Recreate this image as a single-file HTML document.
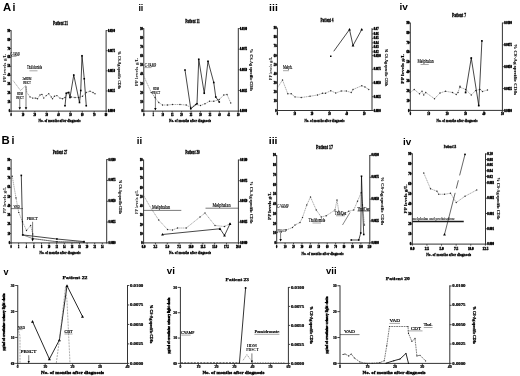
<!DOCTYPE html>
<html><head><meta charset="utf-8"><title>Figure</title>
<style>
html,body{margin:0;padding:0;background:#fff;}
body{width:520px;height:376px;overflow:hidden;}
svg{display:block;}
</style></head><body>
<svg width="520" height="376" viewBox="0 0 520 376">
<rect width="520" height="376" fill="#fff"/>
<text transform="translate(3 10.6) scale(0.1)" font-family='"Liberation Sans", sans-serif' font-size="113" font-weight="bold" text-anchor="start" fill="#000">A</text>
<text transform="translate(12.4 10.6) scale(0.1)" font-family='"Liberation Sans", sans-serif' font-size="106" font-weight="bold" text-anchor="start" fill="#000">i</text>
<text transform="translate(138.4 10.6) scale(0.1)" font-family='"Liberation Sans", sans-serif' font-size="89" font-weight="bold" text-anchor="start" fill="#000">ii</text>
<text transform="translate(269.1 10.6) scale(0.1)" font-family='"Liberation Sans", sans-serif' font-size="89" font-weight="bold" text-anchor="start" fill="#000" textLength="87" lengthAdjust="spacingAndGlyphs">iii</text>
<text transform="translate(399.4 10.3) scale(0.1)" font-family='"Liberation Sans", sans-serif' font-size="93" font-weight="bold" text-anchor="start" fill="#000" textLength="84" lengthAdjust="spacingAndGlyphs">iv</text>
<text transform="translate(1.6 144.4) scale(0.1)" font-family='"Liberation Sans", sans-serif' font-size="114" font-weight="bold" text-anchor="start" fill="#000">B</text>
<text transform="translate(11.5 144.4) scale(0.1)" font-family='"Liberation Sans", sans-serif' font-size="106" font-weight="bold" text-anchor="start" fill="#000">i</text>
<text transform="translate(136.8 144.4) scale(0.1)" font-family='"Liberation Sans", sans-serif' font-size="86" font-weight="bold" text-anchor="start" fill="#000" textLength="54" lengthAdjust="spacingAndGlyphs">ii</text>
<text transform="translate(268.8 143.8) scale(0.1)" font-family='"Liberation Sans", sans-serif' font-size="88" font-weight="bold" text-anchor="start" fill="#000" textLength="87" lengthAdjust="spacingAndGlyphs">iii</text>
<text transform="translate(403.1 145) scale(0.1)" font-family='"Liberation Sans", sans-serif' font-size="94" font-weight="bold" text-anchor="start" fill="#000" textLength="82" lengthAdjust="spacingAndGlyphs">iv</text>
<text transform="translate(3.4 274.5) scale(0.1)" font-family='"Liberation Sans", sans-serif' font-size="90" font-weight="bold" text-anchor="start" fill="#000">v</text>
<text transform="translate(166.8 273.9) scale(0.1)" font-family='"Liberation Sans", sans-serif' font-size="86" font-weight="bold" text-anchor="start" fill="#000" textLength="82" lengthAdjust="spacingAndGlyphs">vi</text>
<text transform="translate(326.1 274.1) scale(0.1)" font-family='"Liberation Sans", sans-serif' font-size="88" font-weight="bold" text-anchor="start" fill="#000" textLength="105" lengthAdjust="spacingAndGlyphs">vii</text>
<line x1="11.1" y1="30.2" x2="11.1" y2="111.6" stroke="#333" stroke-width="1.0" />
<line x1="106.1" y1="30.2" x2="106.1" y2="111.6" stroke="#333" stroke-width="1.0" />
<line x1="10.6" y1="111.1" x2="106.6" y2="111.1" stroke="#333" stroke-width="1.0" />
<line x1="9.6" y1="30.6" x2="11.1" y2="30.6" stroke="#333" stroke-width="0.9" />
<text transform="translate(10.2 31.62) scale(0.1)" font-family='"Liberation Serif", serif' font-size="31" font-weight="bold" text-anchor="end" fill="#111" stroke="#111" stroke-width="5" textLength="26.87" lengthAdjust="spacingAndGlyphs">90</text>
<line x1="9.6" y1="39.54" x2="11.1" y2="39.54" stroke="#333" stroke-width="0.9" />
<text transform="translate(10.2 40.57) scale(0.1)" font-family='"Liberation Serif", serif' font-size="31" font-weight="bold" text-anchor="end" fill="#111" stroke="#111" stroke-width="5" textLength="26.87" lengthAdjust="spacingAndGlyphs">80</text>
<line x1="9.6" y1="48.49" x2="11.1" y2="48.49" stroke="#333" stroke-width="0.9" />
<text transform="translate(10.2 49.51) scale(0.1)" font-family='"Liberation Serif", serif' font-size="31" font-weight="bold" text-anchor="end" fill="#111" stroke="#111" stroke-width="5" textLength="26.87" lengthAdjust="spacingAndGlyphs">70</text>
<line x1="9.6" y1="57.43" x2="11.1" y2="57.43" stroke="#333" stroke-width="0.9" />
<text transform="translate(10.2 58.46) scale(0.1)" font-family='"Liberation Serif", serif' font-size="31" font-weight="bold" text-anchor="end" fill="#111" stroke="#111" stroke-width="5" textLength="26.87" lengthAdjust="spacingAndGlyphs">60</text>
<line x1="9.6" y1="66.38" x2="11.1" y2="66.38" stroke="#333" stroke-width="0.9" />
<text transform="translate(10.2 67.4) scale(0.1)" font-family='"Liberation Serif", serif' font-size="31" font-weight="bold" text-anchor="end" fill="#111" stroke="#111" stroke-width="5" textLength="26.87" lengthAdjust="spacingAndGlyphs">50</text>
<line x1="9.6" y1="75.32" x2="11.1" y2="75.32" stroke="#333" stroke-width="0.9" />
<text transform="translate(10.2 76.35) scale(0.1)" font-family='"Liberation Serif", serif' font-size="31" font-weight="bold" text-anchor="end" fill="#111" stroke="#111" stroke-width="5" textLength="26.87" lengthAdjust="spacingAndGlyphs">40</text>
<line x1="9.6" y1="84.27" x2="11.1" y2="84.27" stroke="#333" stroke-width="0.9" />
<text transform="translate(10.2 85.29) scale(0.1)" font-family='"Liberation Serif", serif' font-size="31" font-weight="bold" text-anchor="end" fill="#111" stroke="#111" stroke-width="5" textLength="26.87" lengthAdjust="spacingAndGlyphs">30</text>
<line x1="9.6" y1="93.21" x2="11.1" y2="93.21" stroke="#333" stroke-width="0.9" />
<text transform="translate(10.2 94.23) scale(0.1)" font-family='"Liberation Serif", serif' font-size="31" font-weight="bold" text-anchor="end" fill="#111" stroke="#111" stroke-width="5" textLength="26.87" lengthAdjust="spacingAndGlyphs">20</text>
<line x1="9.6" y1="102.16" x2="11.1" y2="102.16" stroke="#333" stroke-width="0.9" />
<text transform="translate(10.2 103.18) scale(0.1)" font-family='"Liberation Serif", serif' font-size="31" font-weight="bold" text-anchor="end" fill="#111" stroke="#111" stroke-width="5" textLength="26.87" lengthAdjust="spacingAndGlyphs">10</text>
<line x1="9.6" y1="111.1" x2="11.1" y2="111.1" stroke="#333" stroke-width="0.9" />
<text transform="translate(10.2 112.12) scale(0.1)" font-family='"Liberation Serif", serif' font-size="31" font-weight="bold" text-anchor="end" fill="#111" stroke="#111" stroke-width="5" textLength="13.43" lengthAdjust="spacingAndGlyphs">0</text>
<line x1="106.1" y1="30.6" x2="107.6" y2="30.6" stroke="#333" stroke-width="0.9" />
<text transform="translate(107.9 31.62) scale(0.1)" font-family='"Liberation Serif", serif' font-size="31" font-weight="bold" text-anchor="start" fill="#111" stroke="#111" stroke-width="5" textLength="70.06" lengthAdjust="spacingAndGlyphs">0.0100</text>
<line x1="106.1" y1="50.73" x2="107.6" y2="50.73" stroke="#333" stroke-width="0.9" />
<text transform="translate(107.9 51.75) scale(0.1)" font-family='"Liberation Serif", serif' font-size="31" font-weight="bold" text-anchor="start" fill="#111" stroke="#111" stroke-width="5" textLength="70.06" lengthAdjust="spacingAndGlyphs">0.0075</text>
<line x1="106.1" y1="70.85" x2="107.6" y2="70.85" stroke="#333" stroke-width="0.9" />
<text transform="translate(107.9 71.87) scale(0.1)" font-family='"Liberation Serif", serif' font-size="31" font-weight="bold" text-anchor="start" fill="#111" stroke="#111" stroke-width="5" textLength="70.06" lengthAdjust="spacingAndGlyphs">0.0050</text>
<line x1="106.1" y1="90.97" x2="107.6" y2="90.97" stroke="#333" stroke-width="0.9" />
<text transform="translate(107.9 92) scale(0.1)" font-family='"Liberation Serif", serif' font-size="31" font-weight="bold" text-anchor="start" fill="#111" stroke="#111" stroke-width="5" textLength="70.06" lengthAdjust="spacingAndGlyphs">0.0025</text>
<line x1="106.1" y1="111.1" x2="107.6" y2="111.1" stroke="#333" stroke-width="0.9" />
<text transform="translate(107.9 112.12) scale(0.1)" font-family='"Liberation Serif", serif' font-size="31" font-weight="bold" text-anchor="start" fill="#111" stroke="#111" stroke-width="5" textLength="70.06" lengthAdjust="spacingAndGlyphs">0.0000</text>
<line x1="11.1" y1="111.1" x2="11.1" y2="112.6" stroke="#333" stroke-width="0.9" />
<text transform="translate(11.1 115.9) scale(0.1)" font-family='"Liberation Serif", serif' font-size="31" font-weight="bold" text-anchor="middle" fill="#111" stroke="#111" stroke-width="5" textLength="12.4" lengthAdjust="spacingAndGlyphs">0</text>
<line x1="22.97" y1="111.1" x2="22.97" y2="112.6" stroke="#333" stroke-width="0.9" />
<text transform="translate(22.97 115.9) scale(0.1)" font-family='"Liberation Serif", serif' font-size="31" font-weight="bold" text-anchor="middle" fill="#111" stroke="#111" stroke-width="5" textLength="24.8" lengthAdjust="spacingAndGlyphs">10</text>
<line x1="34.84" y1="111.1" x2="34.84" y2="112.6" stroke="#333" stroke-width="0.9" />
<text transform="translate(34.84 115.9) scale(0.1)" font-family='"Liberation Serif", serif' font-size="31" font-weight="bold" text-anchor="middle" fill="#111" stroke="#111" stroke-width="5" textLength="24.8" lengthAdjust="spacingAndGlyphs">20</text>
<line x1="46.71" y1="111.1" x2="46.71" y2="112.6" stroke="#333" stroke-width="0.9" />
<text transform="translate(46.71 115.9) scale(0.1)" font-family='"Liberation Serif", serif' font-size="31" font-weight="bold" text-anchor="middle" fill="#111" stroke="#111" stroke-width="5" textLength="24.8" lengthAdjust="spacingAndGlyphs">30</text>
<line x1="58.58" y1="111.1" x2="58.58" y2="112.6" stroke="#333" stroke-width="0.9" />
<text transform="translate(58.58 115.9) scale(0.1)" font-family='"Liberation Serif", serif' font-size="31" font-weight="bold" text-anchor="middle" fill="#111" stroke="#111" stroke-width="5" textLength="24.8" lengthAdjust="spacingAndGlyphs">40</text>
<line x1="70.45" y1="111.1" x2="70.45" y2="112.6" stroke="#333" stroke-width="0.9" />
<text transform="translate(70.45 115.9) scale(0.1)" font-family='"Liberation Serif", serif' font-size="31" font-weight="bold" text-anchor="middle" fill="#111" stroke="#111" stroke-width="5" textLength="24.8" lengthAdjust="spacingAndGlyphs">50</text>
<line x1="82.32" y1="111.1" x2="82.32" y2="112.6" stroke="#333" stroke-width="0.9" />
<text transform="translate(82.32 115.9) scale(0.1)" font-family='"Liberation Serif", serif' font-size="31" font-weight="bold" text-anchor="middle" fill="#111" stroke="#111" stroke-width="5" textLength="24.8" lengthAdjust="spacingAndGlyphs">60</text>
<line x1="94.19" y1="111.1" x2="94.19" y2="112.6" stroke="#333" stroke-width="0.9" />
<text transform="translate(94.19 115.9) scale(0.1)" font-family='"Liberation Serif", serif' font-size="31" font-weight="bold" text-anchor="middle" fill="#111" stroke="#111" stroke-width="5" textLength="24.8" lengthAdjust="spacingAndGlyphs">70</text>
<line x1="106.06" y1="111.1" x2="106.06" y2="112.6" stroke="#333" stroke-width="0.9" />
<text transform="translate(106.06 115.9) scale(0.1)" font-family='"Liberation Serif", serif' font-size="31" font-weight="bold" text-anchor="middle" fill="#111" stroke="#111" stroke-width="5" textLength="24.8" lengthAdjust="spacingAndGlyphs">80</text>
<text transform="translate(60.6 24.9) scale(0.1)" font-family='"Liberation Serif", serif' font-size="52" font-weight="bold" text-anchor="middle" fill="#000" stroke="#000" stroke-width="3.2" textLength="150" lengthAdjust="spacingAndGlyphs">Patient 21</text>
<text transform="translate(59.6 122.3) scale(0.1)" font-family='"Liberation Serif", serif' font-size="44" font-weight="bold" text-anchor="middle" fill="#000" stroke="#000" stroke-width="3" textLength="420" lengthAdjust="spacingAndGlyphs">No. of months after diagnosis</text>
<text transform="translate(6.2 68) rotate(-90) scale(0.1)" font-family='"Liberation Serif", serif' font-size="36" font-weight="normal" text-anchor="middle" fill="#000" stroke="#000" stroke-width="0.6" textLength="280" lengthAdjust="spacingAndGlyphs">PP levels g/L</text>
<text transform="translate(117.8 70) rotate(90) scale(0.1)" font-family='"Liberation Serif", serif' font-size="40" font-weight="bold" text-anchor="middle" fill="#000" stroke="#000" stroke-width="1" textLength="380" lengthAdjust="spacingAndGlyphs">% CS-Ag specific CD8s</text>
<polyline points="13.1,80.6 20.6,90.6 25.6,85.6 26.9,92.5 30,96.9 32.75,98.1 35.6,98.1 37.5,98.75 40,95 41.9,94.4 43.75,98.1 46.25,95.6 48.75,93.75 51.25,96.9 52.5,98.75 54.4,96.25 56.9,95.6 60,98.1 62.5,98.75 65,97.5 68,92.5 71.25,97 75,97.5 78.75,97.5 82.5,96.25 86.25,92.5 90,91.25 93,92.5 95,93.75" fill="none" stroke="#555" stroke-width="0.5" stroke-dasharray="1.3 0.6" stroke-linejoin="miter" />
<circle cx="30" cy="96.9" r="0.7" fill="#2a2a2a"/>
<circle cx="32.75" cy="98.1" r="0.7" fill="#2a2a2a"/>
<circle cx="35.6" cy="98.1" r="0.7" fill="#2a2a2a"/>
<circle cx="37.5" cy="98.75" r="0.7" fill="#2a2a2a"/>
<circle cx="40" cy="95" r="0.7" fill="#2a2a2a"/>
<circle cx="41.9" cy="94.4" r="0.7" fill="#2a2a2a"/>
<circle cx="43.75" cy="98.1" r="0.7" fill="#2a2a2a"/>
<circle cx="46.25" cy="95.6" r="0.7" fill="#2a2a2a"/>
<circle cx="48.75" cy="93.75" r="0.7" fill="#2a2a2a"/>
<circle cx="51.25" cy="96.9" r="0.7" fill="#2a2a2a"/>
<circle cx="52.5" cy="98.75" r="0.7" fill="#2a2a2a"/>
<circle cx="54.4" cy="96.25" r="0.7" fill="#2a2a2a"/>
<circle cx="56.9" cy="95.6" r="0.7" fill="#2a2a2a"/>
<circle cx="60" cy="98.1" r="0.7" fill="#2a2a2a"/>
<circle cx="62.5" cy="98.75" r="0.7" fill="#2a2a2a"/>
<circle cx="65" cy="97.5" r="0.7" fill="#2a2a2a"/>
<circle cx="68" cy="92.5" r="0.7" fill="#2a2a2a"/>
<circle cx="71.25" cy="97" r="0.7" fill="#2a2a2a"/>
<circle cx="75" cy="97.5" r="0.7" fill="#2a2a2a"/>
<circle cx="78.75" cy="97.5" r="0.7" fill="#2a2a2a"/>
<circle cx="82.5" cy="96.25" r="0.7" fill="#2a2a2a"/>
<circle cx="86.25" cy="92.5" r="0.7" fill="#2a2a2a"/>
<circle cx="90" cy="91.25" r="0.7" fill="#2a2a2a"/>
<circle cx="93" cy="92.5" r="0.7" fill="#2a2a2a"/>
<circle cx="95" cy="93.75" r="0.7" fill="#2a2a2a"/>
<polyline points="65,105.75 66.25,93.25 68.75,92.5 70,97.5 73.75,75 79.5,102.5 80.75,90.5 82,55.75 84.25,78.75 86.25,105.75" fill="none" stroke="#000" stroke-width="0.72" stroke-linejoin="miter" />
<rect x="64.2" y="104.95" width="1.6" height="1.6" fill="#000"/>
<rect x="65.45" y="92.45" width="1.6" height="1.6" fill="#000"/>
<rect x="67.95" y="91.7" width="1.6" height="1.6" fill="#000"/>
<rect x="69.2" y="96.7" width="1.6" height="1.6" fill="#000"/>
<rect x="72.95" y="74.2" width="1.6" height="1.6" fill="#000"/>
<rect x="78.7" y="101.7" width="1.6" height="1.6" fill="#000"/>
<rect x="79.95" y="89.7" width="1.6" height="1.6" fill="#000"/>
<rect x="81.2" y="54.95" width="1.6" height="1.6" fill="#000"/>
<rect x="83.45" y="77.95" width="1.6" height="1.6" fill="#000"/>
<rect x="85.45" y="104.95" width="1.6" height="1.6" fill="#000"/>
<line x1="19.75" y1="99" x2="19.75" y2="108.8" stroke="#222" stroke-width="0.6" />
<polygon points="18.5,107.2 21,107.2 19.75,109.8" fill="#000"/>
<line x1="26" y1="86" x2="26" y2="108.8" stroke="#222" stroke-width="0.6" />
<polygon points="24.75,107.2 27.25,107.2 26,109.8" fill="#000"/>
<text transform="translate(15.2 55.85) scale(0.1)" font-family='"Liberation Serif", serif' font-size="56" font-weight="normal" text-anchor="middle" fill="#000" stroke="#000" stroke-width="1.6" textLength="95" lengthAdjust="spacingAndGlyphs">C-VAMP</text>
<line x1="10.5" y1="56.4" x2="16.5" y2="56.4" stroke="#222" stroke-width="0.4" />
<text transform="translate(34.5 69.35) scale(0.1)" font-family='"Liberation Serif", serif' font-size="56" font-weight="normal" text-anchor="middle" fill="#000" stroke="#000" stroke-width="1.6" textLength="150" lengthAdjust="spacingAndGlyphs">Thalidomide</text>
<line x1="29.5" y1="70.8" x2="37.5" y2="70.8" stroke="#222" stroke-width="0.4" />
<text transform="translate(26.9 79.62) scale(0.1)" font-family='"Liberation Serif", serif' font-size="46" font-weight="normal" text-anchor="middle" fill="#000" stroke="#000" stroke-width="1.6" textLength="90" lengthAdjust="spacingAndGlyphs">2xHDM</text>
<text transform="translate(26.9 84.02) scale(0.1)" font-family='"Liberation Serif", serif' font-size="46" font-weight="normal" text-anchor="middle" fill="#000" stroke="#000" stroke-width="1.6" textLength="75" lengthAdjust="spacingAndGlyphs">PBSCT</text>
<text transform="translate(20 95.02) scale(0.1)" font-family='"Liberation Serif", serif' font-size="46" font-weight="normal" text-anchor="middle" fill="#000" stroke="#000" stroke-width="1.6" textLength="60" lengthAdjust="spacingAndGlyphs">HDM</text>
<text transform="translate(20 98.77) scale(0.1)" font-family='"Liberation Serif", serif' font-size="46" font-weight="normal" text-anchor="middle" fill="#000" stroke="#000" stroke-width="1.6" textLength="75" lengthAdjust="spacingAndGlyphs">PBSCT</text>
<line x1="143.8" y1="28.2" x2="143.8" y2="111.6" stroke="#333" stroke-width="1.0" />
<line x1="238.3" y1="28.2" x2="238.3" y2="111.6" stroke="#333" stroke-width="1.0" />
<line x1="143.3" y1="111.1" x2="238.8" y2="111.1" stroke="#333" stroke-width="1.0" />
<line x1="142.3" y1="28.6" x2="143.8" y2="28.6" stroke="#333" stroke-width="0.9" />
<text transform="translate(142.9 29.62) scale(0.1)" font-family='"Liberation Serif", serif' font-size="31" font-weight="bold" text-anchor="end" fill="#111" stroke="#111" stroke-width="5" textLength="26.87" lengthAdjust="spacingAndGlyphs">90</text>
<line x1="142.3" y1="37.77" x2="143.8" y2="37.77" stroke="#333" stroke-width="0.9" />
<text transform="translate(142.9 38.79) scale(0.1)" font-family='"Liberation Serif", serif' font-size="31" font-weight="bold" text-anchor="end" fill="#111" stroke="#111" stroke-width="5" textLength="26.87" lengthAdjust="spacingAndGlyphs">80</text>
<line x1="142.3" y1="46.93" x2="143.8" y2="46.93" stroke="#333" stroke-width="0.9" />
<text transform="translate(142.9 47.96) scale(0.1)" font-family='"Liberation Serif", serif' font-size="31" font-weight="bold" text-anchor="end" fill="#111" stroke="#111" stroke-width="5" textLength="26.87" lengthAdjust="spacingAndGlyphs">70</text>
<line x1="142.3" y1="56.1" x2="143.8" y2="56.1" stroke="#333" stroke-width="0.9" />
<text transform="translate(142.9 57.12) scale(0.1)" font-family='"Liberation Serif", serif' font-size="31" font-weight="bold" text-anchor="end" fill="#111" stroke="#111" stroke-width="5" textLength="26.87" lengthAdjust="spacingAndGlyphs">60</text>
<line x1="142.3" y1="65.27" x2="143.8" y2="65.27" stroke="#333" stroke-width="0.9" />
<text transform="translate(142.9 66.29) scale(0.1)" font-family='"Liberation Serif", serif' font-size="31" font-weight="bold" text-anchor="end" fill="#111" stroke="#111" stroke-width="5" textLength="26.87" lengthAdjust="spacingAndGlyphs">50</text>
<line x1="142.3" y1="74.43" x2="143.8" y2="74.43" stroke="#333" stroke-width="0.9" />
<text transform="translate(142.9 75.46) scale(0.1)" font-family='"Liberation Serif", serif' font-size="31" font-weight="bold" text-anchor="end" fill="#111" stroke="#111" stroke-width="5" textLength="26.87" lengthAdjust="spacingAndGlyphs">40</text>
<line x1="142.3" y1="83.6" x2="143.8" y2="83.6" stroke="#333" stroke-width="0.9" />
<text transform="translate(142.9 84.62) scale(0.1)" font-family='"Liberation Serif", serif' font-size="31" font-weight="bold" text-anchor="end" fill="#111" stroke="#111" stroke-width="5" textLength="26.87" lengthAdjust="spacingAndGlyphs">30</text>
<line x1="142.3" y1="92.77" x2="143.8" y2="92.77" stroke="#333" stroke-width="0.9" />
<text transform="translate(142.9 93.79) scale(0.1)" font-family='"Liberation Serif", serif' font-size="31" font-weight="bold" text-anchor="end" fill="#111" stroke="#111" stroke-width="5" textLength="26.87" lengthAdjust="spacingAndGlyphs">20</text>
<line x1="142.3" y1="101.93" x2="143.8" y2="101.93" stroke="#333" stroke-width="0.9" />
<text transform="translate(142.9 102.96) scale(0.1)" font-family='"Liberation Serif", serif' font-size="31" font-weight="bold" text-anchor="end" fill="#111" stroke="#111" stroke-width="5" textLength="26.87" lengthAdjust="spacingAndGlyphs">10</text>
<line x1="142.3" y1="111.1" x2="143.8" y2="111.1" stroke="#333" stroke-width="0.9" />
<text transform="translate(142.9 112.12) scale(0.1)" font-family='"Liberation Serif", serif' font-size="31" font-weight="bold" text-anchor="end" fill="#111" stroke="#111" stroke-width="5" textLength="13.43" lengthAdjust="spacingAndGlyphs">0</text>
<line x1="238.3" y1="28.6" x2="239.8" y2="28.6" stroke="#333" stroke-width="0.9" />
<text transform="translate(240.1 29.62) scale(0.1)" font-family='"Liberation Serif", serif' font-size="31" font-weight="bold" text-anchor="start" fill="#111" stroke="#111" stroke-width="5" textLength="70.06" lengthAdjust="spacingAndGlyphs">0.0100</text>
<line x1="238.3" y1="49.23" x2="239.8" y2="49.23" stroke="#333" stroke-width="0.9" />
<text transform="translate(240.1 50.25) scale(0.1)" font-family='"Liberation Serif", serif' font-size="31" font-weight="bold" text-anchor="start" fill="#111" stroke="#111" stroke-width="5" textLength="70.06" lengthAdjust="spacingAndGlyphs">0.0075</text>
<line x1="238.3" y1="69.85" x2="239.8" y2="69.85" stroke="#333" stroke-width="0.9" />
<text transform="translate(240.1 70.87) scale(0.1)" font-family='"Liberation Serif", serif' font-size="31" font-weight="bold" text-anchor="start" fill="#111" stroke="#111" stroke-width="5" textLength="70.06" lengthAdjust="spacingAndGlyphs">0.0050</text>
<line x1="238.3" y1="90.47" x2="239.8" y2="90.47" stroke="#333" stroke-width="0.9" />
<text transform="translate(240.1 91.5) scale(0.1)" font-family='"Liberation Serif", serif' font-size="31" font-weight="bold" text-anchor="start" fill="#111" stroke="#111" stroke-width="5" textLength="70.06" lengthAdjust="spacingAndGlyphs">0.0025</text>
<line x1="238.3" y1="111.1" x2="239.8" y2="111.1" stroke="#333" stroke-width="0.9" />
<text transform="translate(240.1 112.12) scale(0.1)" font-family='"Liberation Serif", serif' font-size="31" font-weight="bold" text-anchor="start" fill="#111" stroke="#111" stroke-width="5" textLength="70.06" lengthAdjust="spacingAndGlyphs">0.0000</text>
<line x1="143.8" y1="111.1" x2="143.8" y2="112.6" stroke="#333" stroke-width="0.9" />
<text transform="translate(143.8 115.9) scale(0.1)" font-family='"Liberation Serif", serif' font-size="31" font-weight="bold" text-anchor="middle" fill="#111" stroke="#111" stroke-width="5" textLength="12.4" lengthAdjust="spacingAndGlyphs">0</text>
<line x1="153.25" y1="111.1" x2="153.25" y2="112.6" stroke="#333" stroke-width="0.9" />
<text transform="translate(153.25 115.9) scale(0.1)" font-family='"Liberation Serif", serif' font-size="31" font-weight="bold" text-anchor="middle" fill="#111" stroke="#111" stroke-width="5" textLength="12.4" lengthAdjust="spacingAndGlyphs">5</text>
<line x1="162.7" y1="111.1" x2="162.7" y2="112.6" stroke="#333" stroke-width="0.9" />
<text transform="translate(162.7 115.9) scale(0.1)" font-family='"Liberation Serif", serif' font-size="31" font-weight="bold" text-anchor="middle" fill="#111" stroke="#111" stroke-width="5" textLength="24.8" lengthAdjust="spacingAndGlyphs">10</text>
<line x1="172.15" y1="111.1" x2="172.15" y2="112.6" stroke="#333" stroke-width="0.9" />
<text transform="translate(172.15 115.9) scale(0.1)" font-family='"Liberation Serif", serif' font-size="31" font-weight="bold" text-anchor="middle" fill="#111" stroke="#111" stroke-width="5" textLength="24.8" lengthAdjust="spacingAndGlyphs">15</text>
<line x1="181.6" y1="111.1" x2="181.6" y2="112.6" stroke="#333" stroke-width="0.9" />
<text transform="translate(181.6 115.9) scale(0.1)" font-family='"Liberation Serif", serif' font-size="31" font-weight="bold" text-anchor="middle" fill="#111" stroke="#111" stroke-width="5" textLength="24.8" lengthAdjust="spacingAndGlyphs">20</text>
<line x1="191.05" y1="111.1" x2="191.05" y2="112.6" stroke="#333" stroke-width="0.9" />
<text transform="translate(191.05 115.9) scale(0.1)" font-family='"Liberation Serif", serif' font-size="31" font-weight="bold" text-anchor="middle" fill="#111" stroke="#111" stroke-width="5" textLength="24.8" lengthAdjust="spacingAndGlyphs">25</text>
<line x1="200.5" y1="111.1" x2="200.5" y2="112.6" stroke="#333" stroke-width="0.9" />
<text transform="translate(200.5 115.9) scale(0.1)" font-family='"Liberation Serif", serif' font-size="31" font-weight="bold" text-anchor="middle" fill="#111" stroke="#111" stroke-width="5" textLength="24.8" lengthAdjust="spacingAndGlyphs">30</text>
<line x1="209.95" y1="111.1" x2="209.95" y2="112.6" stroke="#333" stroke-width="0.9" />
<text transform="translate(209.95 115.9) scale(0.1)" font-family='"Liberation Serif", serif' font-size="31" font-weight="bold" text-anchor="middle" fill="#111" stroke="#111" stroke-width="5" textLength="24.8" lengthAdjust="spacingAndGlyphs">35</text>
<line x1="219.4" y1="111.1" x2="219.4" y2="112.6" stroke="#333" stroke-width="0.9" />
<text transform="translate(219.4 115.9) scale(0.1)" font-family='"Liberation Serif", serif' font-size="31" font-weight="bold" text-anchor="middle" fill="#111" stroke="#111" stroke-width="5" textLength="24.8" lengthAdjust="spacingAndGlyphs">40</text>
<line x1="228.85" y1="111.1" x2="228.85" y2="112.6" stroke="#333" stroke-width="0.9" />
<text transform="translate(228.85 115.9) scale(0.1)" font-family='"Liberation Serif", serif' font-size="31" font-weight="bold" text-anchor="middle" fill="#111" stroke="#111" stroke-width="5" textLength="24.8" lengthAdjust="spacingAndGlyphs">45</text>
<line x1="238.3" y1="111.1" x2="238.3" y2="112.6" stroke="#333" stroke-width="0.9" />
<text transform="translate(238.3 115.9) scale(0.1)" font-family='"Liberation Serif", serif' font-size="31" font-weight="bold" text-anchor="middle" fill="#111" stroke="#111" stroke-width="5" textLength="24.8" lengthAdjust="spacingAndGlyphs">50</text>
<text transform="translate(192.5 23) scale(0.1)" font-family='"Liberation Serif", serif' font-size="52" font-weight="bold" text-anchor="middle" fill="#000" stroke="#000" stroke-width="3.2" textLength="145" lengthAdjust="spacingAndGlyphs">Patient 11</text>
<text transform="translate(190 122.4) scale(0.1)" font-family='"Liberation Serif", serif' font-size="44" font-weight="bold" text-anchor="middle" fill="#000" stroke="#000" stroke-width="3" textLength="420" lengthAdjust="spacingAndGlyphs">No. of months after diagnosis</text>
<text transform="translate(138.3 72) rotate(-90) scale(0.1)" font-family='"Liberation Serif", serif' font-size="36" font-weight="normal" text-anchor="middle" fill="#000" stroke="#000" stroke-width="0.6" textLength="280" lengthAdjust="spacingAndGlyphs">PP levels g/L</text>
<text transform="translate(250.3 70) rotate(90) scale(0.1)" font-family='"Liberation Serif", serif' font-size="40" font-weight="bold" text-anchor="middle" fill="#000" stroke="#000" stroke-width="1" textLength="420" lengthAdjust="spacingAndGlyphs">% CS-Ag specific CD8s</text>
<polyline points="143,74.5 151.25,92.5 155,97.5 158.75,102.5 162.5,105 167.5,105 172.5,104.5 180,104.5 186.25,105 190.75,107.5 195.5,104.5 200.5,105.5 205,103.75 209.5,101.25 213.75,101.25 219.25,99.5 223.75,95 227,94.5 230.75,103" fill="none" stroke="#555" stroke-width="0.5" stroke-dasharray="1.3 0.6" stroke-linejoin="miter" />
<circle cx="151.25" cy="92.5" r="0.7" fill="#2a2a2a"/>
<circle cx="155" cy="97.5" r="0.7" fill="#2a2a2a"/>
<circle cx="158.75" cy="102.5" r="0.7" fill="#2a2a2a"/>
<circle cx="162.5" cy="105" r="0.7" fill="#2a2a2a"/>
<circle cx="167.5" cy="105" r="0.7" fill="#2a2a2a"/>
<circle cx="172.5" cy="104.5" r="0.7" fill="#2a2a2a"/>
<circle cx="180" cy="104.5" r="0.7" fill="#2a2a2a"/>
<circle cx="186.25" cy="105" r="0.7" fill="#2a2a2a"/>
<circle cx="190.75" cy="107.5" r="0.7" fill="#2a2a2a"/>
<circle cx="195.5" cy="104.5" r="0.7" fill="#2a2a2a"/>
<circle cx="200.5" cy="105.5" r="0.7" fill="#2a2a2a"/>
<circle cx="205" cy="103.75" r="0.7" fill="#2a2a2a"/>
<circle cx="209.5" cy="101.25" r="0.7" fill="#2a2a2a"/>
<circle cx="213.75" cy="101.25" r="0.7" fill="#2a2a2a"/>
<circle cx="219.25" cy="99.5" r="0.7" fill="#2a2a2a"/>
<circle cx="223.75" cy="95" r="0.7" fill="#2a2a2a"/>
<circle cx="227" cy="94.5" r="0.7" fill="#2a2a2a"/>
<circle cx="230.75" cy="103" r="0.7" fill="#2a2a2a"/>
<polyline points="185,70 190.75,108.75 197,103.75 198.75,59.25 204.25,93.25 208,61.25 213.75,82.5 215.75,97 219.25,102" fill="none" stroke="#000" stroke-width="0.72" stroke-linejoin="miter" />
<rect x="184.2" y="69.2" width="1.6" height="1.6" fill="#000"/>
<rect x="189.95" y="107.95" width="1.6" height="1.6" fill="#000"/>
<rect x="196.2" y="102.95" width="1.6" height="1.6" fill="#000"/>
<rect x="197.95" y="58.45" width="1.6" height="1.6" fill="#000"/>
<rect x="203.45" y="92.45" width="1.6" height="1.6" fill="#000"/>
<rect x="207.2" y="60.45" width="1.6" height="1.6" fill="#000"/>
<rect x="212.95" y="81.7" width="1.6" height="1.6" fill="#000"/>
<rect x="214.95" y="96.2" width="1.6" height="1.6" fill="#000"/>
<rect x="218.45" y="101.2" width="1.6" height="1.6" fill="#000"/>
<text transform="translate(150.4 67.35) scale(0.1)" font-family='"Liberation Serif", serif' font-size="56" font-weight="normal" text-anchor="middle" fill="#000" stroke="#000" stroke-width="1.6" textLength="115" lengthAdjust="spacingAndGlyphs">C-VAMP</text>
<line x1="144.5" y1="67.6" x2="151.5" y2="67.6" stroke="#222" stroke-width="0.4" />
<text transform="translate(156 90.27) scale(0.1)" font-family='"Liberation Serif", serif' font-size="46" font-weight="normal" text-anchor="middle" fill="#000" stroke="#000" stroke-width="1.6" textLength="60" lengthAdjust="spacingAndGlyphs">HDM</text>
<text transform="translate(156 94.02) scale(0.1)" font-family='"Liberation Serif", serif' font-size="46" font-weight="normal" text-anchor="middle" fill="#000" stroke="#000" stroke-width="1.6" textLength="80" lengthAdjust="spacingAndGlyphs">PBSCT</text>
<line x1="155.4" y1="94" x2="155.4" y2="109.6" stroke="#222" stroke-width="0.6" />
<polygon points="154.15,108 156.65,108 155.4,110.6" fill="#000"/>
<line x1="277.4" y1="27.7" x2="277.4" y2="111" stroke="#333" stroke-width="1.0" />
<line x1="372" y1="28.2" x2="372" y2="111" stroke="#333" stroke-width="1.0" />
<line x1="276.9" y1="110.5" x2="372.5" y2="110.5" stroke="#333" stroke-width="1.0" />
<line x1="275.9" y1="28.1" x2="277.4" y2="28.1" stroke="#333" stroke-width="0.9" />
<text transform="translate(276.5 29.12) scale(0.1)" font-family='"Liberation Serif", serif' font-size="31" font-weight="bold" text-anchor="end" fill="#111" stroke="#111" stroke-width="5" textLength="26.87" lengthAdjust="spacingAndGlyphs">90</text>
<line x1="275.9" y1="37.26" x2="277.4" y2="37.26" stroke="#333" stroke-width="0.9" />
<text transform="translate(276.5 38.28) scale(0.1)" font-family='"Liberation Serif", serif' font-size="31" font-weight="bold" text-anchor="end" fill="#111" stroke="#111" stroke-width="5" textLength="26.87" lengthAdjust="spacingAndGlyphs">80</text>
<line x1="275.9" y1="46.41" x2="277.4" y2="46.41" stroke="#333" stroke-width="0.9" />
<text transform="translate(276.5 47.43) scale(0.1)" font-family='"Liberation Serif", serif' font-size="31" font-weight="bold" text-anchor="end" fill="#111" stroke="#111" stroke-width="5" textLength="26.87" lengthAdjust="spacingAndGlyphs">70</text>
<line x1="275.9" y1="55.57" x2="277.4" y2="55.57" stroke="#333" stroke-width="0.9" />
<text transform="translate(276.5 56.59) scale(0.1)" font-family='"Liberation Serif", serif' font-size="31" font-weight="bold" text-anchor="end" fill="#111" stroke="#111" stroke-width="5" textLength="26.87" lengthAdjust="spacingAndGlyphs">60</text>
<line x1="275.9" y1="64.72" x2="277.4" y2="64.72" stroke="#333" stroke-width="0.9" />
<text transform="translate(276.5 65.75) scale(0.1)" font-family='"Liberation Serif", serif' font-size="31" font-weight="bold" text-anchor="end" fill="#111" stroke="#111" stroke-width="5" textLength="26.87" lengthAdjust="spacingAndGlyphs">50</text>
<line x1="275.9" y1="73.88" x2="277.4" y2="73.88" stroke="#333" stroke-width="0.9" />
<text transform="translate(276.5 74.9) scale(0.1)" font-family='"Liberation Serif", serif' font-size="31" font-weight="bold" text-anchor="end" fill="#111" stroke="#111" stroke-width="5" textLength="26.87" lengthAdjust="spacingAndGlyphs">40</text>
<line x1="275.9" y1="83.03" x2="277.4" y2="83.03" stroke="#333" stroke-width="0.9" />
<text transform="translate(276.5 84.06) scale(0.1)" font-family='"Liberation Serif", serif' font-size="31" font-weight="bold" text-anchor="end" fill="#111" stroke="#111" stroke-width="5" textLength="26.87" lengthAdjust="spacingAndGlyphs">30</text>
<line x1="275.9" y1="92.19" x2="277.4" y2="92.19" stroke="#333" stroke-width="0.9" />
<text transform="translate(276.5 93.21) scale(0.1)" font-family='"Liberation Serif", serif' font-size="31" font-weight="bold" text-anchor="end" fill="#111" stroke="#111" stroke-width="5" textLength="26.87" lengthAdjust="spacingAndGlyphs">20</text>
<line x1="275.9" y1="101.34" x2="277.4" y2="101.34" stroke="#333" stroke-width="0.9" />
<text transform="translate(276.5 102.37) scale(0.1)" font-family='"Liberation Serif", serif' font-size="31" font-weight="bold" text-anchor="end" fill="#111" stroke="#111" stroke-width="5" textLength="26.87" lengthAdjust="spacingAndGlyphs">10</text>
<line x1="275.9" y1="110.5" x2="277.4" y2="110.5" stroke="#333" stroke-width="0.9" />
<text transform="translate(276.5 111.52) scale(0.1)" font-family='"Liberation Serif", serif' font-size="31" font-weight="bold" text-anchor="end" fill="#111" stroke="#111" stroke-width="5" textLength="13.43" lengthAdjust="spacingAndGlyphs">0</text>
<line x1="372" y1="29.4" x2="373.5" y2="29.4" stroke="#333" stroke-width="0.9" />
<text transform="translate(373.8 30.42) scale(0.1)" font-family='"Liberation Serif", serif' font-size="31" font-weight="bold" text-anchor="start" fill="#111" stroke="#111" stroke-width="5" textLength="46.71" lengthAdjust="spacingAndGlyphs">0.07</text>
<line x1="372" y1="33.9" x2="373.5" y2="33.9" stroke="#333" stroke-width="0.9" />
<text transform="translate(373.8 34.92) scale(0.1)" font-family='"Liberation Serif", serif' font-size="31" font-weight="bold" text-anchor="start" fill="#111" stroke="#111" stroke-width="5" textLength="46.71" lengthAdjust="spacingAndGlyphs">0.06</text>
<line x1="372" y1="38.4" x2="373.5" y2="38.4" stroke="#333" stroke-width="0.9" />
<text transform="translate(373.8 39.42) scale(0.1)" font-family='"Liberation Serif", serif' font-size="31" font-weight="bold" text-anchor="start" fill="#111" stroke="#111" stroke-width="5" textLength="46.71" lengthAdjust="spacingAndGlyphs">0.05</text>
<line x1="372" y1="42.9" x2="373.5" y2="42.9" stroke="#333" stroke-width="0.9" />
<text transform="translate(373.8 43.92) scale(0.1)" font-family='"Liberation Serif", serif' font-size="31" font-weight="bold" text-anchor="start" fill="#111" stroke="#111" stroke-width="5" textLength="46.71" lengthAdjust="spacingAndGlyphs">0.04</text>
<line x1="372" y1="47.4" x2="373.5" y2="47.4" stroke="#333" stroke-width="0.9" />
<text transform="translate(373.8 48.42) scale(0.1)" font-family='"Liberation Serif", serif' font-size="31" font-weight="bold" text-anchor="start" fill="#111" stroke="#111" stroke-width="5" textLength="46.71" lengthAdjust="spacingAndGlyphs">0.03</text>
<line x1="372" y1="51.9" x2="373.5" y2="51.9" stroke="#333" stroke-width="0.9" />
<text transform="translate(373.8 52.92) scale(0.1)" font-family='"Liberation Serif", serif' font-size="31" font-weight="bold" text-anchor="start" fill="#111" stroke="#111" stroke-width="5" textLength="46.71" lengthAdjust="spacingAndGlyphs">0.02</text>
<line x1="372" y1="55.6" x2="373.5" y2="55.6" stroke="#333" stroke-width="0.9" />
<text transform="translate(373.8 56.62) scale(0.1)" font-family='"Liberation Serif", serif' font-size="31" font-weight="bold" text-anchor="start" fill="#111" stroke="#111" stroke-width="5" textLength="70.06" lengthAdjust="spacingAndGlyphs">0.0100</text>
<line x1="372" y1="69.33" x2="373.5" y2="69.33" stroke="#333" stroke-width="0.9" />
<text transform="translate(373.8 70.35) scale(0.1)" font-family='"Liberation Serif", serif' font-size="31" font-weight="bold" text-anchor="start" fill="#111" stroke="#111" stroke-width="5" textLength="70.06" lengthAdjust="spacingAndGlyphs">0.0075</text>
<line x1="372" y1="83.05" x2="373.5" y2="83.05" stroke="#333" stroke-width="0.9" />
<text transform="translate(373.8 84.07) scale(0.1)" font-family='"Liberation Serif", serif' font-size="31" font-weight="bold" text-anchor="start" fill="#111" stroke="#111" stroke-width="5" textLength="70.06" lengthAdjust="spacingAndGlyphs">0.0050</text>
<line x1="372" y1="96.78" x2="373.5" y2="96.78" stroke="#333" stroke-width="0.9" />
<text transform="translate(373.8 97.8) scale(0.1)" font-family='"Liberation Serif", serif' font-size="31" font-weight="bold" text-anchor="start" fill="#111" stroke="#111" stroke-width="5" textLength="70.06" lengthAdjust="spacingAndGlyphs">0.0025</text>
<line x1="372" y1="110.5" x2="373.5" y2="110.5" stroke="#333" stroke-width="0.9" />
<text transform="translate(373.8 111.52) scale(0.1)" font-family='"Liberation Serif", serif' font-size="31" font-weight="bold" text-anchor="start" fill="#111" stroke="#111" stroke-width="5" textLength="70.06" lengthAdjust="spacingAndGlyphs">0.0000</text>
<line x1="277.4" y1="110.5" x2="277.4" y2="112" stroke="#333" stroke-width="0.9" />
<text transform="translate(277.4 115.3) scale(0.1)" font-family='"Liberation Serif", serif' font-size="31" font-weight="bold" text-anchor="middle" fill="#111" stroke="#111" stroke-width="5" textLength="12.4" lengthAdjust="spacingAndGlyphs">0</text>
<line x1="294.75" y1="110.5" x2="294.75" y2="112" stroke="#333" stroke-width="0.9" />
<text transform="translate(294.75 115.3) scale(0.1)" font-family='"Liberation Serif", serif' font-size="31" font-weight="bold" text-anchor="middle" fill="#111" stroke="#111" stroke-width="5" textLength="24.8" lengthAdjust="spacingAndGlyphs">10</text>
<line x1="312.1" y1="110.5" x2="312.1" y2="112" stroke="#333" stroke-width="0.9" />
<text transform="translate(312.1 115.3) scale(0.1)" font-family='"Liberation Serif", serif' font-size="31" font-weight="bold" text-anchor="middle" fill="#111" stroke="#111" stroke-width="5" textLength="24.8" lengthAdjust="spacingAndGlyphs">20</text>
<line x1="329.45" y1="110.5" x2="329.45" y2="112" stroke="#333" stroke-width="0.9" />
<text transform="translate(329.45 115.3) scale(0.1)" font-family='"Liberation Serif", serif' font-size="31" font-weight="bold" text-anchor="middle" fill="#111" stroke="#111" stroke-width="5" textLength="24.8" lengthAdjust="spacingAndGlyphs">30</text>
<line x1="346.8" y1="110.5" x2="346.8" y2="112" stroke="#333" stroke-width="0.9" />
<text transform="translate(346.8 115.3) scale(0.1)" font-family='"Liberation Serif", serif' font-size="31" font-weight="bold" text-anchor="middle" fill="#111" stroke="#111" stroke-width="5" textLength="24.8" lengthAdjust="spacingAndGlyphs">40</text>
<line x1="364.15" y1="110.5" x2="364.15" y2="112" stroke="#333" stroke-width="0.9" />
<text transform="translate(364.15 115.3) scale(0.1)" font-family='"Liberation Serif", serif' font-size="31" font-weight="bold" text-anchor="middle" fill="#111" stroke="#111" stroke-width="5" textLength="24.8" lengthAdjust="spacingAndGlyphs">50</text>
<text transform="translate(327 22) scale(0.1)" font-family='"Liberation Serif", serif' font-size="52" font-weight="bold" text-anchor="middle" fill="#000" stroke="#000" stroke-width="3.2" textLength="130" lengthAdjust="spacingAndGlyphs">Patient 4</text>
<text transform="translate(324.5 121.7) scale(0.1)" font-family='"Liberation Serif", serif' font-size="44" font-weight="bold" text-anchor="middle" fill="#000" stroke="#000" stroke-width="3" textLength="400" lengthAdjust="spacingAndGlyphs">No. of months after diagnosis</text>
<text transform="translate(272 68.5) rotate(-90) scale(0.1)" font-family='"Liberation Serif", serif' font-size="36" font-weight="normal" text-anchor="middle" fill="#000" stroke="#000" stroke-width="0.6" textLength="230" lengthAdjust="spacingAndGlyphs">PP levels g/L</text>
<text transform="translate(384.5 67.5) rotate(90) scale(0.1)" font-family='"Liberation Serif", serif' font-size="40" font-weight="bold" text-anchor="middle" fill="#000" stroke="#000" stroke-width="1" textLength="375" lengthAdjust="spacingAndGlyphs">% CS-Ag specific CD8s</text>
<polyline points="277.25,88.1 282.5,80 287.75,93.75 291.25,93.75 295,96.9 301.25,97.5 310,96.25 317.5,95 322.5,93.25 325.5,93.25 330.75,90.75 335.75,93 341.25,91 346.25,91 351.25,92.5 353,89.5 361.75,85.75 365,87 368.75,89.5" fill="none" stroke="#555" stroke-width="0.5" stroke-dasharray="1.3 0.6" stroke-linejoin="miter" />
<circle cx="282.5" cy="80" r="0.7" fill="#2a2a2a"/>
<circle cx="287.75" cy="93.75" r="0.7" fill="#2a2a2a"/>
<circle cx="291.25" cy="93.75" r="0.7" fill="#2a2a2a"/>
<circle cx="295" cy="96.9" r="0.7" fill="#2a2a2a"/>
<circle cx="301.25" cy="97.5" r="0.7" fill="#2a2a2a"/>
<circle cx="310" cy="96.25" r="0.7" fill="#2a2a2a"/>
<circle cx="317.5" cy="95" r="0.7" fill="#2a2a2a"/>
<circle cx="322.5" cy="93.25" r="0.7" fill="#2a2a2a"/>
<circle cx="325.5" cy="93.25" r="0.7" fill="#2a2a2a"/>
<circle cx="330.75" cy="90.75" r="0.7" fill="#2a2a2a"/>
<circle cx="335.75" cy="93" r="0.7" fill="#2a2a2a"/>
<circle cx="341.25" cy="91" r="0.7" fill="#2a2a2a"/>
<circle cx="346.25" cy="91" r="0.7" fill="#2a2a2a"/>
<circle cx="351.25" cy="92.5" r="0.7" fill="#2a2a2a"/>
<circle cx="353" cy="89.5" r="0.7" fill="#2a2a2a"/>
<circle cx="361.75" cy="85.75" r="0.7" fill="#2a2a2a"/>
<circle cx="365" cy="87" r="0.7" fill="#2a2a2a"/>
<circle cx="368.75" cy="89.5" r="0.7" fill="#2a2a2a"/>
<rect x="330" y="55.5" width="1.5" height="1.5" fill="#000"/>
<polyline points="333.75,51.25 349.5,29.5 353,45.5 361.75,29.5" fill="none" stroke="#000" stroke-width="0.72" stroke-linejoin="miter" />
<polygon points="349.5,28 348.12,30.62 350.88,30.62" fill="#000"/>
<polygon points="353,44 351.62,46.62 354.38,46.62" fill="#000"/>
<polygon points="361.75,28 360.38,30.62 363.12,30.62" fill="#000"/>
<text transform="translate(287.7 69.45) scale(0.1)" font-family='"Liberation Serif", serif' font-size="56" font-weight="normal" text-anchor="middle" fill="#000" stroke="#000" stroke-width="1.6" textLength="95" lengthAdjust="spacingAndGlyphs">Melph.</text>
<line x1="283" y1="70.7" x2="289" y2="70.7" stroke="#222" stroke-width="0.4" />
<line x1="410.3" y1="22.6" x2="410.3" y2="110.9" stroke="#333" stroke-width="1.0" />
<line x1="502.4" y1="22.6" x2="502.4" y2="110.9" stroke="#333" stroke-width="1.0" />
<line x1="409.8" y1="110.4" x2="502.9" y2="110.4" stroke="#333" stroke-width="1.0" />
<line x1="408.8" y1="23" x2="410.3" y2="23" stroke="#333" stroke-width="0.9" />
<text transform="translate(409.4 24.12) scale(0.1)" font-family='"Liberation Serif", serif' font-size="34" font-weight="bold" text-anchor="end" fill="#111" stroke="#111" stroke-width="5" textLength="29.47" lengthAdjust="spacingAndGlyphs">90</text>
<line x1="408.8" y1="32.71" x2="410.3" y2="32.71" stroke="#333" stroke-width="0.9" />
<text transform="translate(409.4 33.83) scale(0.1)" font-family='"Liberation Serif", serif' font-size="34" font-weight="bold" text-anchor="end" fill="#111" stroke="#111" stroke-width="5" textLength="29.47" lengthAdjust="spacingAndGlyphs">80</text>
<line x1="408.8" y1="42.42" x2="410.3" y2="42.42" stroke="#333" stroke-width="0.9" />
<text transform="translate(409.4 43.54) scale(0.1)" font-family='"Liberation Serif", serif' font-size="34" font-weight="bold" text-anchor="end" fill="#111" stroke="#111" stroke-width="5" textLength="29.47" lengthAdjust="spacingAndGlyphs">70</text>
<line x1="408.8" y1="52.13" x2="410.3" y2="52.13" stroke="#333" stroke-width="0.9" />
<text transform="translate(409.4 53.26) scale(0.1)" font-family='"Liberation Serif", serif' font-size="34" font-weight="bold" text-anchor="end" fill="#111" stroke="#111" stroke-width="5" textLength="29.47" lengthAdjust="spacingAndGlyphs">60</text>
<line x1="408.8" y1="61.84" x2="410.3" y2="61.84" stroke="#333" stroke-width="0.9" />
<text transform="translate(409.4 62.97) scale(0.1)" font-family='"Liberation Serif", serif' font-size="34" font-weight="bold" text-anchor="end" fill="#111" stroke="#111" stroke-width="5" textLength="29.47" lengthAdjust="spacingAndGlyphs">50</text>
<line x1="408.8" y1="71.56" x2="410.3" y2="71.56" stroke="#333" stroke-width="0.9" />
<text transform="translate(409.4 72.68) scale(0.1)" font-family='"Liberation Serif", serif' font-size="34" font-weight="bold" text-anchor="end" fill="#111" stroke="#111" stroke-width="5" textLength="29.47" lengthAdjust="spacingAndGlyphs">40</text>
<line x1="408.8" y1="81.27" x2="410.3" y2="81.27" stroke="#333" stroke-width="0.9" />
<text transform="translate(409.4 82.39) scale(0.1)" font-family='"Liberation Serif", serif' font-size="34" font-weight="bold" text-anchor="end" fill="#111" stroke="#111" stroke-width="5" textLength="29.47" lengthAdjust="spacingAndGlyphs">30</text>
<line x1="408.8" y1="90.98" x2="410.3" y2="90.98" stroke="#333" stroke-width="0.9" />
<text transform="translate(409.4 92.1) scale(0.1)" font-family='"Liberation Serif", serif' font-size="34" font-weight="bold" text-anchor="end" fill="#111" stroke="#111" stroke-width="5" textLength="29.47" lengthAdjust="spacingAndGlyphs">20</text>
<line x1="408.8" y1="100.69" x2="410.3" y2="100.69" stroke="#333" stroke-width="0.9" />
<text transform="translate(409.4 101.81) scale(0.1)" font-family='"Liberation Serif", serif' font-size="34" font-weight="bold" text-anchor="end" fill="#111" stroke="#111" stroke-width="5" textLength="29.47" lengthAdjust="spacingAndGlyphs">10</text>
<line x1="408.8" y1="110.4" x2="410.3" y2="110.4" stroke="#333" stroke-width="0.9" />
<text transform="translate(409.4 111.52) scale(0.1)" font-family='"Liberation Serif", serif' font-size="34" font-weight="bold" text-anchor="end" fill="#111" stroke="#111" stroke-width="5" textLength="14.73" lengthAdjust="spacingAndGlyphs">0</text>
<line x1="502.4" y1="23" x2="503.9" y2="23" stroke="#333" stroke-width="0.9" />
<text transform="translate(504.2 24.12) scale(0.1)" font-family='"Liberation Serif", serif' font-size="34" font-weight="bold" text-anchor="start" fill="#111" stroke="#111" stroke-width="5" textLength="76.84" lengthAdjust="spacingAndGlyphs">0.0100</text>
<line x1="502.4" y1="44.85" x2="503.9" y2="44.85" stroke="#333" stroke-width="0.9" />
<text transform="translate(504.2 45.97) scale(0.1)" font-family='"Liberation Serif", serif' font-size="34" font-weight="bold" text-anchor="start" fill="#111" stroke="#111" stroke-width="5" textLength="76.84" lengthAdjust="spacingAndGlyphs">0.0075</text>
<line x1="502.4" y1="66.7" x2="503.9" y2="66.7" stroke="#333" stroke-width="0.9" />
<text transform="translate(504.2 67.82) scale(0.1)" font-family='"Liberation Serif", serif' font-size="34" font-weight="bold" text-anchor="start" fill="#111" stroke="#111" stroke-width="5" textLength="76.84" lengthAdjust="spacingAndGlyphs">0.0050</text>
<line x1="502.4" y1="88.55" x2="503.9" y2="88.55" stroke="#333" stroke-width="0.9" />
<text transform="translate(504.2 89.67) scale(0.1)" font-family='"Liberation Serif", serif' font-size="34" font-weight="bold" text-anchor="start" fill="#111" stroke="#111" stroke-width="5" textLength="76.84" lengthAdjust="spacingAndGlyphs">0.0025</text>
<line x1="502.4" y1="110.4" x2="503.9" y2="110.4" stroke="#333" stroke-width="0.9" />
<text transform="translate(504.2 111.52) scale(0.1)" font-family='"Liberation Serif", serif' font-size="34" font-weight="bold" text-anchor="start" fill="#111" stroke="#111" stroke-width="5" textLength="76.84" lengthAdjust="spacingAndGlyphs">0.0000</text>
<line x1="410.3" y1="110.4" x2="410.3" y2="111.9" stroke="#333" stroke-width="0.9" />
<text transform="translate(410.3 115.2) scale(0.1)" font-family='"Liberation Serif", serif' font-size="34" font-weight="bold" text-anchor="middle" fill="#111" stroke="#111" stroke-width="5" textLength="13.6" lengthAdjust="spacingAndGlyphs">0</text>
<line x1="428.72" y1="110.4" x2="428.72" y2="111.9" stroke="#333" stroke-width="0.9" />
<text transform="translate(428.72 115.2) scale(0.1)" font-family='"Liberation Serif", serif' font-size="34" font-weight="bold" text-anchor="middle" fill="#111" stroke="#111" stroke-width="5" textLength="27.2" lengthAdjust="spacingAndGlyphs">10</text>
<line x1="447.14" y1="110.4" x2="447.14" y2="111.9" stroke="#333" stroke-width="0.9" />
<text transform="translate(447.14 115.2) scale(0.1)" font-family='"Liberation Serif", serif' font-size="34" font-weight="bold" text-anchor="middle" fill="#111" stroke="#111" stroke-width="5" textLength="27.2" lengthAdjust="spacingAndGlyphs">20</text>
<line x1="465.56" y1="110.4" x2="465.56" y2="111.9" stroke="#333" stroke-width="0.9" />
<text transform="translate(465.56 115.2) scale(0.1)" font-family='"Liberation Serif", serif' font-size="34" font-weight="bold" text-anchor="middle" fill="#111" stroke="#111" stroke-width="5" textLength="27.2" lengthAdjust="spacingAndGlyphs">30</text>
<line x1="483.98" y1="110.4" x2="483.98" y2="111.9" stroke="#333" stroke-width="0.9" />
<text transform="translate(483.98 115.2) scale(0.1)" font-family='"Liberation Serif", serif' font-size="34" font-weight="bold" text-anchor="middle" fill="#111" stroke="#111" stroke-width="5" textLength="27.2" lengthAdjust="spacingAndGlyphs">40</text>
<line x1="502.4" y1="110.4" x2="502.4" y2="111.9" stroke="#333" stroke-width="0.9" />
<text transform="translate(502.4 115.2) scale(0.1)" font-family='"Liberation Serif", serif' font-size="34" font-weight="bold" text-anchor="middle" fill="#111" stroke="#111" stroke-width="5" textLength="27.2" lengthAdjust="spacingAndGlyphs">50</text>
<text transform="translate(459 16.6) scale(0.1)" font-family='"Liberation Serif", serif' font-size="52" font-weight="bold" text-anchor="middle" fill="#000" stroke="#000" stroke-width="3.2" textLength="140" lengthAdjust="spacingAndGlyphs">Patient 7</text>
<text transform="translate(457 121.7) scale(0.1)" font-family='"Liberation Serif", serif' font-size="44" font-weight="bold" text-anchor="middle" fill="#000" stroke="#000" stroke-width="3" textLength="410" lengthAdjust="spacingAndGlyphs">No. of months after diagnosis</text>
<text transform="translate(404.3 68.7) rotate(-90) scale(0.1)" font-family='"Liberation Serif", serif' font-size="44" font-weight="bold" text-anchor="middle" fill="#000" stroke="#000" stroke-width="1.5" textLength="300" lengthAdjust="spacingAndGlyphs">PP levels g/L</text>
<text transform="translate(514.3 69.4) rotate(90) scale(0.1)" font-family='"Liberation Serif", serif' font-size="42" font-weight="bold" text-anchor="middle" fill="#000" stroke="#000" stroke-width="1" textLength="510" lengthAdjust="spacingAndGlyphs">% CS-Ag specific CD8s</text>
<polyline points="410,92.5 414.25,89.5 419.5,93.75 422,91.25 423.75,95 425.75,92.5 434.5,98.75 440,93 445.5,91.25 452.5,92.5 456.25,94.5 458,92.5 460,86.25 460,87.25 465.6,89.4 471.25,95 475.6,90.6 480,89.4 482.5,91.5 487.5,90" fill="none" stroke="#555" stroke-width="0.5" stroke-dasharray="1.3 0.6" stroke-linejoin="miter" />
<circle cx="410" cy="92.5" r="0.7" fill="#2a2a2a"/>
<circle cx="414.25" cy="89.5" r="0.7" fill="#2a2a2a"/>
<circle cx="419.5" cy="93.75" r="0.7" fill="#2a2a2a"/>
<circle cx="422" cy="91.25" r="0.7" fill="#2a2a2a"/>
<circle cx="423.75" cy="95" r="0.7" fill="#2a2a2a"/>
<circle cx="425.75" cy="92.5" r="0.7" fill="#2a2a2a"/>
<circle cx="434.5" cy="98.75" r="0.7" fill="#2a2a2a"/>
<circle cx="440" cy="93" r="0.7" fill="#2a2a2a"/>
<circle cx="445.5" cy="91.25" r="0.7" fill="#2a2a2a"/>
<circle cx="452.5" cy="92.5" r="0.7" fill="#2a2a2a"/>
<circle cx="456.25" cy="94.5" r="0.7" fill="#2a2a2a"/>
<circle cx="458" cy="92.5" r="0.7" fill="#2a2a2a"/>
<circle cx="460" cy="86.25" r="0.7" fill="#2a2a2a"/>
<circle cx="460" cy="87.25" r="0.7" fill="#2a2a2a"/>
<circle cx="465.6" cy="89.4" r="0.7" fill="#2a2a2a"/>
<circle cx="471.25" cy="95" r="0.7" fill="#2a2a2a"/>
<circle cx="475.6" cy="90.6" r="0.7" fill="#2a2a2a"/>
<circle cx="480" cy="89.4" r="0.7" fill="#2a2a2a"/>
<circle cx="482.5" cy="91.5" r="0.7" fill="#2a2a2a"/>
<circle cx="487.5" cy="90" r="0.7" fill="#2a2a2a"/>
<polyline points="465.6,92.5 471.25,58 478.75,105.6 481.9,40.9" fill="none" stroke="#000" stroke-width="0.72" stroke-linejoin="miter" />
<rect x="464.75" y="91.65" width="1.7" height="1.7" fill="#000"/>
<rect x="470.4" y="57.15" width="1.7" height="1.7" fill="#000"/>
<rect x="477.9" y="104.75" width="1.7" height="1.7" fill="#000"/>
<rect x="481.05" y="40.05" width="1.7" height="1.7" fill="#000"/>
<text transform="translate(425.5 63.45) scale(0.1)" font-family='"Liberation Serif", serif' font-size="56" font-weight="normal" text-anchor="middle" fill="#000" stroke="#000" stroke-width="1.6" textLength="160" lengthAdjust="spacingAndGlyphs">Melphalan</text>
<line x1="420.6" y1="64.5" x2="428.75" y2="64.5" stroke="#222" stroke-width="0.4" />
<line x1="11.1" y1="159.2" x2="11.1" y2="243.4" stroke="#333" stroke-width="1.0" />
<line x1="106.7" y1="159.2" x2="106.7" y2="243.4" stroke="#333" stroke-width="1.0" />
<line x1="10.6" y1="242.9" x2="107.2" y2="242.9" stroke="#333" stroke-width="1.0" />
<line x1="9.6" y1="159.6" x2="11.1" y2="159.6" stroke="#333" stroke-width="0.9" />
<text transform="translate(10.2 160.62) scale(0.1)" font-family='"Liberation Serif", serif' font-size="31" font-weight="bold" text-anchor="end" fill="#111" stroke="#111" stroke-width="5" textLength="26.87" lengthAdjust="spacingAndGlyphs">90</text>
<line x1="9.6" y1="168.86" x2="11.1" y2="168.86" stroke="#333" stroke-width="0.9" />
<text transform="translate(10.2 169.88) scale(0.1)" font-family='"Liberation Serif", serif' font-size="31" font-weight="bold" text-anchor="end" fill="#111" stroke="#111" stroke-width="5" textLength="26.87" lengthAdjust="spacingAndGlyphs">80</text>
<line x1="9.6" y1="178.11" x2="11.1" y2="178.11" stroke="#333" stroke-width="0.9" />
<text transform="translate(10.2 179.13) scale(0.1)" font-family='"Liberation Serif", serif' font-size="31" font-weight="bold" text-anchor="end" fill="#111" stroke="#111" stroke-width="5" textLength="26.87" lengthAdjust="spacingAndGlyphs">70</text>
<line x1="9.6" y1="187.37" x2="11.1" y2="187.37" stroke="#333" stroke-width="0.9" />
<text transform="translate(10.2 188.39) scale(0.1)" font-family='"Liberation Serif", serif' font-size="31" font-weight="bold" text-anchor="end" fill="#111" stroke="#111" stroke-width="5" textLength="26.87" lengthAdjust="spacingAndGlyphs">60</text>
<line x1="9.6" y1="196.62" x2="11.1" y2="196.62" stroke="#333" stroke-width="0.9" />
<text transform="translate(10.2 197.65) scale(0.1)" font-family='"Liberation Serif", serif' font-size="31" font-weight="bold" text-anchor="end" fill="#111" stroke="#111" stroke-width="5" textLength="26.87" lengthAdjust="spacingAndGlyphs">50</text>
<line x1="9.6" y1="205.88" x2="11.1" y2="205.88" stroke="#333" stroke-width="0.9" />
<text transform="translate(10.2 206.9) scale(0.1)" font-family='"Liberation Serif", serif' font-size="31" font-weight="bold" text-anchor="end" fill="#111" stroke="#111" stroke-width="5" textLength="26.87" lengthAdjust="spacingAndGlyphs">40</text>
<line x1="9.6" y1="215.13" x2="11.1" y2="215.13" stroke="#333" stroke-width="0.9" />
<text transform="translate(10.2 216.16) scale(0.1)" font-family='"Liberation Serif", serif' font-size="31" font-weight="bold" text-anchor="end" fill="#111" stroke="#111" stroke-width="5" textLength="26.87" lengthAdjust="spacingAndGlyphs">30</text>
<line x1="9.6" y1="224.39" x2="11.1" y2="224.39" stroke="#333" stroke-width="0.9" />
<text transform="translate(10.2 225.41) scale(0.1)" font-family='"Liberation Serif", serif' font-size="31" font-weight="bold" text-anchor="end" fill="#111" stroke="#111" stroke-width="5" textLength="26.87" lengthAdjust="spacingAndGlyphs">20</text>
<line x1="9.6" y1="233.64" x2="11.1" y2="233.64" stroke="#333" stroke-width="0.9" />
<text transform="translate(10.2 234.67) scale(0.1)" font-family='"Liberation Serif", serif' font-size="31" font-weight="bold" text-anchor="end" fill="#111" stroke="#111" stroke-width="5" textLength="26.87" lengthAdjust="spacingAndGlyphs">10</text>
<line x1="9.6" y1="242.9" x2="11.1" y2="242.9" stroke="#333" stroke-width="0.9" />
<text transform="translate(10.2 243.92) scale(0.1)" font-family='"Liberation Serif", serif' font-size="31" font-weight="bold" text-anchor="end" fill="#111" stroke="#111" stroke-width="5" textLength="13.43" lengthAdjust="spacingAndGlyphs">0</text>
<line x1="106.7" y1="159.6" x2="108.2" y2="159.6" stroke="#333" stroke-width="0.9" />
<text transform="translate(108.5 160.62) scale(0.1)" font-family='"Liberation Serif", serif' font-size="31" font-weight="bold" text-anchor="start" fill="#111" stroke="#111" stroke-width="5" textLength="70.06" lengthAdjust="spacingAndGlyphs">0.0100</text>
<line x1="106.7" y1="180.43" x2="108.2" y2="180.43" stroke="#333" stroke-width="0.9" />
<text transform="translate(108.5 181.45) scale(0.1)" font-family='"Liberation Serif", serif' font-size="31" font-weight="bold" text-anchor="start" fill="#111" stroke="#111" stroke-width="5" textLength="70.06" lengthAdjust="spacingAndGlyphs">0.0075</text>
<line x1="106.7" y1="201.25" x2="108.2" y2="201.25" stroke="#333" stroke-width="0.9" />
<text transform="translate(108.5 202.27) scale(0.1)" font-family='"Liberation Serif", serif' font-size="31" font-weight="bold" text-anchor="start" fill="#111" stroke="#111" stroke-width="5" textLength="70.06" lengthAdjust="spacingAndGlyphs">0.0050</text>
<line x1="106.7" y1="222.07" x2="108.2" y2="222.07" stroke="#333" stroke-width="0.9" />
<text transform="translate(108.5 223.1) scale(0.1)" font-family='"Liberation Serif", serif' font-size="31" font-weight="bold" text-anchor="start" fill="#111" stroke="#111" stroke-width="5" textLength="70.06" lengthAdjust="spacingAndGlyphs">0.0025</text>
<line x1="106.7" y1="242.9" x2="108.2" y2="242.9" stroke="#333" stroke-width="0.9" />
<text transform="translate(108.5 243.92) scale(0.1)" font-family='"Liberation Serif", serif' font-size="31" font-weight="bold" text-anchor="start" fill="#111" stroke="#111" stroke-width="5" textLength="70.06" lengthAdjust="spacingAndGlyphs">0.0000</text>
<line x1="11.1" y1="242.9" x2="11.1" y2="244.4" stroke="#333" stroke-width="0.9" />
<text transform="translate(11.1 247.7) scale(0.1)" font-family='"Liberation Serif", serif' font-size="31" font-weight="bold" text-anchor="middle" fill="#111" stroke="#111" stroke-width="5" textLength="12.4" lengthAdjust="spacingAndGlyphs">0</text>
<line x1="18.7" y1="242.9" x2="18.7" y2="244.4" stroke="#333" stroke-width="0.9" />
<text transform="translate(18.7 247.7) scale(0.1)" font-family='"Liberation Serif", serif' font-size="31" font-weight="bold" text-anchor="middle" fill="#111" stroke="#111" stroke-width="5" textLength="12.4" lengthAdjust="spacingAndGlyphs">2</text>
<line x1="26.3" y1="242.9" x2="26.3" y2="244.4" stroke="#333" stroke-width="0.9" />
<text transform="translate(26.3 247.7) scale(0.1)" font-family='"Liberation Serif", serif' font-size="31" font-weight="bold" text-anchor="middle" fill="#111" stroke="#111" stroke-width="5" textLength="12.4" lengthAdjust="spacingAndGlyphs">4</text>
<line x1="33.9" y1="242.9" x2="33.9" y2="244.4" stroke="#333" stroke-width="0.9" />
<text transform="translate(33.9 247.7) scale(0.1)" font-family='"Liberation Serif", serif' font-size="31" font-weight="bold" text-anchor="middle" fill="#111" stroke="#111" stroke-width="5" textLength="12.4" lengthAdjust="spacingAndGlyphs">6</text>
<line x1="41.5" y1="242.9" x2="41.5" y2="244.4" stroke="#333" stroke-width="0.9" />
<text transform="translate(41.5 247.7) scale(0.1)" font-family='"Liberation Serif", serif' font-size="31" font-weight="bold" text-anchor="middle" fill="#111" stroke="#111" stroke-width="5" textLength="12.4" lengthAdjust="spacingAndGlyphs">8</text>
<line x1="49.1" y1="242.9" x2="49.1" y2="244.4" stroke="#333" stroke-width="0.9" />
<text transform="translate(49.1 247.7) scale(0.1)" font-family='"Liberation Serif", serif' font-size="31" font-weight="bold" text-anchor="middle" fill="#111" stroke="#111" stroke-width="5" textLength="24.8" lengthAdjust="spacingAndGlyphs">10</text>
<line x1="56.7" y1="242.9" x2="56.7" y2="244.4" stroke="#333" stroke-width="0.9" />
<text transform="translate(56.7 247.7) scale(0.1)" font-family='"Liberation Serif", serif' font-size="31" font-weight="bold" text-anchor="middle" fill="#111" stroke="#111" stroke-width="5" textLength="24.8" lengthAdjust="spacingAndGlyphs">12</text>
<line x1="64.3" y1="242.9" x2="64.3" y2="244.4" stroke="#333" stroke-width="0.9" />
<text transform="translate(64.3 247.7) scale(0.1)" font-family='"Liberation Serif", serif' font-size="31" font-weight="bold" text-anchor="middle" fill="#111" stroke="#111" stroke-width="5" textLength="24.8" lengthAdjust="spacingAndGlyphs">14</text>
<line x1="71.9" y1="242.9" x2="71.9" y2="244.4" stroke="#333" stroke-width="0.9" />
<text transform="translate(71.9 247.7) scale(0.1)" font-family='"Liberation Serif", serif' font-size="31" font-weight="bold" text-anchor="middle" fill="#111" stroke="#111" stroke-width="5" textLength="24.8" lengthAdjust="spacingAndGlyphs">16</text>
<line x1="79.5" y1="242.9" x2="79.5" y2="244.4" stroke="#333" stroke-width="0.9" />
<text transform="translate(79.5 247.7) scale(0.1)" font-family='"Liberation Serif", serif' font-size="31" font-weight="bold" text-anchor="middle" fill="#111" stroke="#111" stroke-width="5" textLength="24.8" lengthAdjust="spacingAndGlyphs">18</text>
<line x1="87.1" y1="242.9" x2="87.1" y2="244.4" stroke="#333" stroke-width="0.9" />
<text transform="translate(87.1 247.7) scale(0.1)" font-family='"Liberation Serif", serif' font-size="31" font-weight="bold" text-anchor="middle" fill="#111" stroke="#111" stroke-width="5" textLength="24.8" lengthAdjust="spacingAndGlyphs">20</text>
<line x1="94.7" y1="242.9" x2="94.7" y2="244.4" stroke="#333" stroke-width="0.9" />
<text transform="translate(94.7 247.7) scale(0.1)" font-family='"Liberation Serif", serif' font-size="31" font-weight="bold" text-anchor="middle" fill="#111" stroke="#111" stroke-width="5" textLength="24.8" lengthAdjust="spacingAndGlyphs">22</text>
<line x1="102.3" y1="242.9" x2="102.3" y2="244.4" stroke="#333" stroke-width="0.9" />
<text transform="translate(102.3 247.7) scale(0.1)" font-family='"Liberation Serif", serif' font-size="31" font-weight="bold" text-anchor="middle" fill="#111" stroke="#111" stroke-width="5" textLength="24.8" lengthAdjust="spacingAndGlyphs">24</text>
<text transform="translate(60 154.3) scale(0.1)" font-family='"Liberation Serif", serif' font-size="52" font-weight="bold" text-anchor="middle" fill="#000" stroke="#000" stroke-width="3.2" textLength="145" lengthAdjust="spacingAndGlyphs">Patient 27</text>
<text transform="translate(60 254.2) scale(0.1)" font-family='"Liberation Serif", serif' font-size="44" font-weight="bold" text-anchor="middle" fill="#000" stroke="#000" stroke-width="3" textLength="410" lengthAdjust="spacingAndGlyphs">No. of months after diagnosis</text>
<text transform="translate(6.3 200) rotate(-90) scale(0.1)" font-family='"Liberation Serif", serif' font-size="36" font-weight="normal" text-anchor="middle" fill="#000" stroke="#000" stroke-width="0.6" textLength="270" lengthAdjust="spacingAndGlyphs">PP levels g/L</text>
<text transform="translate(119.3 197) rotate(90) scale(0.1)" font-family='"Liberation Serif", serif' font-size="40" font-weight="bold" text-anchor="middle" fill="#000" stroke="#000" stroke-width="1" textLength="340" lengthAdjust="spacingAndGlyphs">% CS-Ag specific CD8s</text>
<polyline points="12.25,176.25 16,198 18.75,212.4 22.5,221.75 26.5,230.5 30.6,225.5 32.75,234 32.75,238.6 56.9,241.75 84,242.3" fill="none" stroke="#555" stroke-width="0.5" stroke-dasharray="1.3 0.6" stroke-linejoin="miter" />
<circle cx="12.25" cy="176.25" r="0.7" fill="#2a2a2a"/>
<circle cx="16" cy="198" r="0.7" fill="#2a2a2a"/>
<circle cx="18.75" cy="212.4" r="0.7" fill="#2a2a2a"/>
<circle cx="22.5" cy="221.75" r="0.7" fill="#2a2a2a"/>
<circle cx="26.5" cy="230.5" r="0.7" fill="#2a2a2a"/>
<circle cx="30.6" cy="225.5" r="0.7" fill="#2a2a2a"/>
<circle cx="32.75" cy="234" r="0.7" fill="#2a2a2a"/>
<circle cx="32.75" cy="238.6" r="0.7" fill="#2a2a2a"/>
<circle cx="56.9" cy="241.75" r="0.7" fill="#2a2a2a"/>
<circle cx="84" cy="242.3" r="0.7" fill="#2a2a2a"/>
<polyline points="21.3,175.4 22.7,234.9 56.9,239 84,241.6" fill="none" stroke="#000" stroke-width="0.72" stroke-linejoin="miter" />
<rect x="20.5" y="174.6" width="1.6" height="1.6" fill="#000"/>
<rect x="21.9" y="234.1" width="1.6" height="1.6" fill="#000"/>
<rect x="56.1" y="238.2" width="1.6" height="1.6" fill="#000"/>
<rect x="83.2" y="240.8" width="1.6" height="1.6" fill="#000"/>
<polyline points="22.9,234.9 32.75,238.6 56.9,241.75 84,242.3" fill="none" stroke="#222" stroke-width="0.5" stroke-linejoin="miter" />
<rect x="22.3" y="234.3" width="1.2" height="1.2" fill="#222"/>
<rect x="32.15" y="238" width="1.2" height="1.2" fill="#222"/>
<rect x="56.3" y="241.15" width="1.2" height="1.2" fill="#222"/>
<rect x="83.4" y="241.7" width="1.2" height="1.2" fill="#222"/>
<text transform="translate(16.6 207.59) scale(0.1)" font-family='"Liberation Serif", serif' font-size="42" font-weight="normal" text-anchor="middle" fill="#000" stroke="#000" stroke-width="1.6" textLength="60" lengthAdjust="spacingAndGlyphs">VAD</text>
<line x1="11.1" y1="208.6" x2="23" y2="208.6" stroke="#222" stroke-width="0.6" />
<text transform="translate(32.2 220.09) scale(0.1)" font-family='"Liberation Serif", serif' font-size="42" font-weight="normal" text-anchor="middle" fill="#000" stroke="#000" stroke-width="1.6" textLength="110" lengthAdjust="spacingAndGlyphs">PBSCT</text>
<line x1="32.6" y1="221.8" x2="32.6" y2="240.4" stroke="#222" stroke-width="0.6" />
<polygon points="31.35,238.8 33.85,238.8 32.6,241.4" fill="#000"/>
<line x1="143.6" y1="159.6" x2="143.6" y2="243.4" stroke="#333" stroke-width="1.0" />
<line x1="238.4" y1="159.6" x2="238.4" y2="243.4" stroke="#333" stroke-width="1.0" />
<line x1="143.1" y1="242.9" x2="238.9" y2="242.9" stroke="#333" stroke-width="1.0" />
<line x1="142.1" y1="160" x2="143.6" y2="160" stroke="#333" stroke-width="0.9" />
<text transform="translate(142.7 161.02) scale(0.1)" font-family='"Liberation Serif", serif' font-size="31" font-weight="bold" text-anchor="end" fill="#111" stroke="#111" stroke-width="5" textLength="26.87" lengthAdjust="spacingAndGlyphs">90</text>
<line x1="142.1" y1="169.21" x2="143.6" y2="169.21" stroke="#333" stroke-width="0.9" />
<text transform="translate(142.7 170.23) scale(0.1)" font-family='"Liberation Serif", serif' font-size="31" font-weight="bold" text-anchor="end" fill="#111" stroke="#111" stroke-width="5" textLength="26.87" lengthAdjust="spacingAndGlyphs">80</text>
<line x1="142.1" y1="178.42" x2="143.6" y2="178.42" stroke="#333" stroke-width="0.9" />
<text transform="translate(142.7 179.45) scale(0.1)" font-family='"Liberation Serif", serif' font-size="31" font-weight="bold" text-anchor="end" fill="#111" stroke="#111" stroke-width="5" textLength="26.87" lengthAdjust="spacingAndGlyphs">70</text>
<line x1="142.1" y1="187.63" x2="143.6" y2="187.63" stroke="#333" stroke-width="0.9" />
<text transform="translate(142.7 188.66) scale(0.1)" font-family='"Liberation Serif", serif' font-size="31" font-weight="bold" text-anchor="end" fill="#111" stroke="#111" stroke-width="5" textLength="26.87" lengthAdjust="spacingAndGlyphs">60</text>
<line x1="142.1" y1="196.84" x2="143.6" y2="196.84" stroke="#333" stroke-width="0.9" />
<text transform="translate(142.7 197.87) scale(0.1)" font-family='"Liberation Serif", serif' font-size="31" font-weight="bold" text-anchor="end" fill="#111" stroke="#111" stroke-width="5" textLength="26.87" lengthAdjust="spacingAndGlyphs">50</text>
<line x1="142.1" y1="206.06" x2="143.6" y2="206.06" stroke="#333" stroke-width="0.9" />
<text transform="translate(142.7 207.08) scale(0.1)" font-family='"Liberation Serif", serif' font-size="31" font-weight="bold" text-anchor="end" fill="#111" stroke="#111" stroke-width="5" textLength="26.87" lengthAdjust="spacingAndGlyphs">40</text>
<line x1="142.1" y1="215.27" x2="143.6" y2="215.27" stroke="#333" stroke-width="0.9" />
<text transform="translate(142.7 216.29) scale(0.1)" font-family='"Liberation Serif", serif' font-size="31" font-weight="bold" text-anchor="end" fill="#111" stroke="#111" stroke-width="5" textLength="26.87" lengthAdjust="spacingAndGlyphs">30</text>
<line x1="142.1" y1="224.48" x2="143.6" y2="224.48" stroke="#333" stroke-width="0.9" />
<text transform="translate(142.7 225.5) scale(0.1)" font-family='"Liberation Serif", serif' font-size="31" font-weight="bold" text-anchor="end" fill="#111" stroke="#111" stroke-width="5" textLength="26.87" lengthAdjust="spacingAndGlyphs">20</text>
<line x1="142.1" y1="233.69" x2="143.6" y2="233.69" stroke="#333" stroke-width="0.9" />
<text transform="translate(142.7 234.71) scale(0.1)" font-family='"Liberation Serif", serif' font-size="31" font-weight="bold" text-anchor="end" fill="#111" stroke="#111" stroke-width="5" textLength="26.87" lengthAdjust="spacingAndGlyphs">10</text>
<line x1="142.1" y1="242.9" x2="143.6" y2="242.9" stroke="#333" stroke-width="0.9" />
<text transform="translate(142.7 243.92) scale(0.1)" font-family='"Liberation Serif", serif' font-size="31" font-weight="bold" text-anchor="end" fill="#111" stroke="#111" stroke-width="5" textLength="13.43" lengthAdjust="spacingAndGlyphs">0</text>
<line x1="238.4" y1="160" x2="239.9" y2="160" stroke="#333" stroke-width="0.9" />
<text transform="translate(240.2 161.02) scale(0.1)" font-family='"Liberation Serif", serif' font-size="31" font-weight="bold" text-anchor="start" fill="#111" stroke="#111" stroke-width="5" textLength="70.06" lengthAdjust="spacingAndGlyphs">0.0100</text>
<line x1="238.4" y1="180.72" x2="239.9" y2="180.72" stroke="#333" stroke-width="0.9" />
<text transform="translate(240.2 181.75) scale(0.1)" font-family='"Liberation Serif", serif' font-size="31" font-weight="bold" text-anchor="start" fill="#111" stroke="#111" stroke-width="5" textLength="70.06" lengthAdjust="spacingAndGlyphs">0.0075</text>
<line x1="238.4" y1="201.45" x2="239.9" y2="201.45" stroke="#333" stroke-width="0.9" />
<text transform="translate(240.2 202.47) scale(0.1)" font-family='"Liberation Serif", serif' font-size="31" font-weight="bold" text-anchor="start" fill="#111" stroke="#111" stroke-width="5" textLength="70.06" lengthAdjust="spacingAndGlyphs">0.0050</text>
<line x1="238.4" y1="222.18" x2="239.9" y2="222.18" stroke="#333" stroke-width="0.9" />
<text transform="translate(240.2 223.2) scale(0.1)" font-family='"Liberation Serif", serif' font-size="31" font-weight="bold" text-anchor="start" fill="#111" stroke="#111" stroke-width="5" textLength="70.06" lengthAdjust="spacingAndGlyphs">0.0025</text>
<line x1="238.4" y1="242.9" x2="239.9" y2="242.9" stroke="#333" stroke-width="0.9" />
<text transform="translate(240.2 243.92) scale(0.1)" font-family='"Liberation Serif", serif' font-size="31" font-weight="bold" text-anchor="start" fill="#111" stroke="#111" stroke-width="5" textLength="70.06" lengthAdjust="spacingAndGlyphs">0.0000</text>
<line x1="143.6" y1="242.9" x2="143.6" y2="244.4" stroke="#333" stroke-width="0.9" />
<text transform="translate(143.6 247.7) scale(0.1)" font-family='"Liberation Serif", serif' font-size="31" font-weight="bold" text-anchor="middle" fill="#111" stroke="#111" stroke-width="5" textLength="37.2" lengthAdjust="spacingAndGlyphs">0.0</text>
<line x1="155.45" y1="242.9" x2="155.45" y2="244.4" stroke="#333" stroke-width="0.9" />
<text transform="translate(155.45 247.7) scale(0.1)" font-family='"Liberation Serif", serif' font-size="31" font-weight="bold" text-anchor="middle" fill="#111" stroke="#111" stroke-width="5" textLength="37.2" lengthAdjust="spacingAndGlyphs">2.5</text>
<line x1="167.3" y1="242.9" x2="167.3" y2="244.4" stroke="#333" stroke-width="0.9" />
<text transform="translate(167.3 247.7) scale(0.1)" font-family='"Liberation Serif", serif' font-size="31" font-weight="bold" text-anchor="middle" fill="#111" stroke="#111" stroke-width="5" textLength="37.2" lengthAdjust="spacingAndGlyphs">5.0</text>
<line x1="179.15" y1="242.9" x2="179.15" y2="244.4" stroke="#333" stroke-width="0.9" />
<text transform="translate(179.15 247.7) scale(0.1)" font-family='"Liberation Serif", serif' font-size="31" font-weight="bold" text-anchor="middle" fill="#111" stroke="#111" stroke-width="5" textLength="37.2" lengthAdjust="spacingAndGlyphs">7.5</text>
<line x1="191" y1="242.9" x2="191" y2="244.4" stroke="#333" stroke-width="0.9" />
<text transform="translate(191 247.7) scale(0.1)" font-family='"Liberation Serif", serif' font-size="31" font-weight="bold" text-anchor="middle" fill="#111" stroke="#111" stroke-width="5" textLength="49.6" lengthAdjust="spacingAndGlyphs">10.0</text>
<line x1="202.85" y1="242.9" x2="202.85" y2="244.4" stroke="#333" stroke-width="0.9" />
<text transform="translate(202.85 247.7) scale(0.1)" font-family='"Liberation Serif", serif' font-size="31" font-weight="bold" text-anchor="middle" fill="#111" stroke="#111" stroke-width="5" textLength="49.6" lengthAdjust="spacingAndGlyphs">12.5</text>
<line x1="214.7" y1="242.9" x2="214.7" y2="244.4" stroke="#333" stroke-width="0.9" />
<text transform="translate(214.7 247.7) scale(0.1)" font-family='"Liberation Serif", serif' font-size="31" font-weight="bold" text-anchor="middle" fill="#111" stroke="#111" stroke-width="5" textLength="49.6" lengthAdjust="spacingAndGlyphs">15.0</text>
<line x1="226.55" y1="242.9" x2="226.55" y2="244.4" stroke="#333" stroke-width="0.9" />
<text transform="translate(226.55 247.7) scale(0.1)" font-family='"Liberation Serif", serif' font-size="31" font-weight="bold" text-anchor="middle" fill="#111" stroke="#111" stroke-width="5" textLength="49.6" lengthAdjust="spacingAndGlyphs">17.5</text>
<line x1="238.4" y1="242.9" x2="238.4" y2="244.4" stroke="#333" stroke-width="0.9" />
<text transform="translate(238.4 247.7) scale(0.1)" font-family='"Liberation Serif", serif' font-size="31" font-weight="bold" text-anchor="middle" fill="#111" stroke="#111" stroke-width="5" textLength="49.6" lengthAdjust="spacingAndGlyphs">20.0</text>
<text transform="translate(192.5 154.3) scale(0.1)" font-family='"Liberation Serif", serif' font-size="52" font-weight="bold" text-anchor="middle" fill="#000" stroke="#000" stroke-width="3.2" textLength="145" lengthAdjust="spacingAndGlyphs">Patient 30</text>
<text transform="translate(190 254.2) scale(0.1)" font-family='"Liberation Serif", serif' font-size="44" font-weight="bold" text-anchor="middle" fill="#000" stroke="#000" stroke-width="3" textLength="420" lengthAdjust="spacingAndGlyphs">No. of months after diagnosis</text>
<text transform="translate(137.6 202) rotate(-90) scale(0.1)" font-family='"Liberation Serif", serif' font-size="36" font-weight="normal" text-anchor="middle" fill="#000" stroke="#000" stroke-width="0.6" textLength="240" lengthAdjust="spacingAndGlyphs">PP levels g/L</text>
<text transform="translate(250.3 202.5) rotate(90) scale(0.1)" font-family='"Liberation Serif", serif' font-size="40" font-weight="bold" text-anchor="middle" fill="#000" stroke="#000" stroke-width="1" textLength="420" lengthAdjust="spacingAndGlyphs">% CS-Ag specific CD8s</text>
<polyline points="143,194.5 150.5,207.5 158.75,220 167.5,229.5 172.5,230 177.5,228 186.25,228 200,217 205,213 215,225.5 224.5,226.5 230,223.75" fill="none" stroke="#555" stroke-width="0.5" stroke-dasharray="1.3 0.6" stroke-linejoin="miter" />
<circle cx="158.75" cy="220" r="0.7" fill="#2a2a2a"/>
<circle cx="167.5" cy="229.5" r="0.7" fill="#2a2a2a"/>
<circle cx="172.5" cy="230" r="0.7" fill="#2a2a2a"/>
<circle cx="177.5" cy="228" r="0.7" fill="#2a2a2a"/>
<circle cx="186.25" cy="228" r="0.7" fill="#2a2a2a"/>
<circle cx="200" cy="217" r="0.7" fill="#2a2a2a"/>
<circle cx="205" cy="213" r="0.7" fill="#2a2a2a"/>
<circle cx="215" cy="225.5" r="0.7" fill="#2a2a2a"/>
<circle cx="224.5" cy="226.5" r="0.7" fill="#2a2a2a"/>
<circle cx="230" cy="223.75" r="0.7" fill="#2a2a2a"/>
<polyline points="162.5,234.5 220,228.75 224.5,235.5 230,223.75" fill="none" stroke="#000" stroke-width="0.72" stroke-linejoin="miter" />
<polygon points="162.5,233 161.12,235.62 163.88,235.62" fill="#000"/>
<polygon points="220,227.25 218.62,229.88 221.38,229.88" fill="#000"/>
<polygon points="224.5,234 223.12,236.62 225.88,236.62" fill="#000"/>
<polygon points="230,222.25 228.62,224.88 231.38,224.88" fill="#000"/>
<text transform="translate(161 209.38) scale(0.1)" font-family='"Liberation Serif", serif' font-size="54" font-weight="normal" text-anchor="middle" fill="#000" stroke="#000" stroke-width="1.6" textLength="180" lengthAdjust="spacingAndGlyphs">Melphalan</text>
<line x1="143.6" y1="210.4" x2="181.3" y2="210.4" stroke="#222" stroke-width="0.6" />
<text transform="translate(221.5 206.98) scale(0.1)" font-family='"Liberation Serif", serif' font-size="54" font-weight="normal" text-anchor="middle" fill="#000" stroke="#000" stroke-width="1.6" textLength="180" lengthAdjust="spacingAndGlyphs">Melphalan</text>
<line x1="205.5" y1="208.2" x2="238.4" y2="208.2" stroke="#222" stroke-width="0.6" />
<line x1="276.7" y1="155" x2="276.7" y2="243.4" stroke="#333" stroke-width="1.0" />
<line x1="369.8" y1="155" x2="369.8" y2="243.4" stroke="#333" stroke-width="1.0" />
<line x1="276.2" y1="242.9" x2="370.3" y2="242.9" stroke="#333" stroke-width="1.0" />
<line x1="275.2" y1="155.4" x2="276.7" y2="155.4" stroke="#333" stroke-width="0.9" />
<text transform="translate(275.8 156.46) scale(0.1)" font-family='"Liberation Serif", serif' font-size="32" font-weight="bold" text-anchor="end" fill="#111" stroke="#111" stroke-width="5" textLength="27.73" lengthAdjust="spacingAndGlyphs">90</text>
<line x1="275.2" y1="165.12" x2="276.7" y2="165.12" stroke="#333" stroke-width="0.9" />
<text transform="translate(275.8 166.18) scale(0.1)" font-family='"Liberation Serif", serif' font-size="32" font-weight="bold" text-anchor="end" fill="#111" stroke="#111" stroke-width="5" textLength="27.73" lengthAdjust="spacingAndGlyphs">80</text>
<line x1="275.2" y1="174.84" x2="276.7" y2="174.84" stroke="#333" stroke-width="0.9" />
<text transform="translate(275.8 175.9) scale(0.1)" font-family='"Liberation Serif", serif' font-size="32" font-weight="bold" text-anchor="end" fill="#111" stroke="#111" stroke-width="5" textLength="27.73" lengthAdjust="spacingAndGlyphs">70</text>
<line x1="275.2" y1="184.57" x2="276.7" y2="184.57" stroke="#333" stroke-width="0.9" />
<text transform="translate(275.8 185.62) scale(0.1)" font-family='"Liberation Serif", serif' font-size="32" font-weight="bold" text-anchor="end" fill="#111" stroke="#111" stroke-width="5" textLength="27.73" lengthAdjust="spacingAndGlyphs">60</text>
<line x1="275.2" y1="194.29" x2="276.7" y2="194.29" stroke="#333" stroke-width="0.9" />
<text transform="translate(275.8 195.34) scale(0.1)" font-family='"Liberation Serif", serif' font-size="32" font-weight="bold" text-anchor="end" fill="#111" stroke="#111" stroke-width="5" textLength="27.73" lengthAdjust="spacingAndGlyphs">50</text>
<line x1="275.2" y1="204.01" x2="276.7" y2="204.01" stroke="#333" stroke-width="0.9" />
<text transform="translate(275.8 205.07) scale(0.1)" font-family='"Liberation Serif", serif' font-size="32" font-weight="bold" text-anchor="end" fill="#111" stroke="#111" stroke-width="5" textLength="27.73" lengthAdjust="spacingAndGlyphs">40</text>
<line x1="275.2" y1="213.73" x2="276.7" y2="213.73" stroke="#333" stroke-width="0.9" />
<text transform="translate(275.8 214.79) scale(0.1)" font-family='"Liberation Serif", serif' font-size="32" font-weight="bold" text-anchor="end" fill="#111" stroke="#111" stroke-width="5" textLength="27.73" lengthAdjust="spacingAndGlyphs">30</text>
<line x1="275.2" y1="223.46" x2="276.7" y2="223.46" stroke="#333" stroke-width="0.9" />
<text transform="translate(275.8 224.51) scale(0.1)" font-family='"Liberation Serif", serif' font-size="32" font-weight="bold" text-anchor="end" fill="#111" stroke="#111" stroke-width="5" textLength="27.73" lengthAdjust="spacingAndGlyphs">20</text>
<line x1="275.2" y1="233.18" x2="276.7" y2="233.18" stroke="#333" stroke-width="0.9" />
<text transform="translate(275.8 234.23) scale(0.1)" font-family='"Liberation Serif", serif' font-size="32" font-weight="bold" text-anchor="end" fill="#111" stroke="#111" stroke-width="5" textLength="27.73" lengthAdjust="spacingAndGlyphs">10</text>
<line x1="275.2" y1="242.9" x2="276.7" y2="242.9" stroke="#333" stroke-width="0.9" />
<text transform="translate(275.8 243.96) scale(0.1)" font-family='"Liberation Serif", serif' font-size="32" font-weight="bold" text-anchor="end" fill="#111" stroke="#111" stroke-width="5" textLength="13.87" lengthAdjust="spacingAndGlyphs">0</text>
<line x1="369.8" y1="155.4" x2="371.3" y2="155.4" stroke="#333" stroke-width="0.9" />
<text transform="translate(371.6 156.46) scale(0.1)" font-family='"Liberation Serif", serif' font-size="32" font-weight="bold" text-anchor="start" fill="#111" stroke="#111" stroke-width="5" textLength="72.32" lengthAdjust="spacingAndGlyphs">0.0100</text>
<line x1="369.8" y1="177.28" x2="371.3" y2="177.28" stroke="#333" stroke-width="0.9" />
<text transform="translate(371.6 178.33) scale(0.1)" font-family='"Liberation Serif", serif' font-size="32" font-weight="bold" text-anchor="start" fill="#111" stroke="#111" stroke-width="5" textLength="72.32" lengthAdjust="spacingAndGlyphs">0.0075</text>
<line x1="369.8" y1="199.15" x2="371.3" y2="199.15" stroke="#333" stroke-width="0.9" />
<text transform="translate(371.6 200.21) scale(0.1)" font-family='"Liberation Serif", serif' font-size="32" font-weight="bold" text-anchor="start" fill="#111" stroke="#111" stroke-width="5" textLength="72.32" lengthAdjust="spacingAndGlyphs">0.0050</text>
<line x1="369.8" y1="221.03" x2="371.3" y2="221.03" stroke="#333" stroke-width="0.9" />
<text transform="translate(371.6 222.08) scale(0.1)" font-family='"Liberation Serif", serif' font-size="32" font-weight="bold" text-anchor="start" fill="#111" stroke="#111" stroke-width="5" textLength="72.32" lengthAdjust="spacingAndGlyphs">0.0025</text>
<line x1="369.8" y1="242.9" x2="371.3" y2="242.9" stroke="#333" stroke-width="0.9" />
<text transform="translate(371.6 243.96) scale(0.1)" font-family='"Liberation Serif", serif' font-size="32" font-weight="bold" text-anchor="start" fill="#111" stroke="#111" stroke-width="5" textLength="72.32" lengthAdjust="spacingAndGlyphs">0.0000</text>
<line x1="276.7" y1="242.9" x2="276.7" y2="244.4" stroke="#333" stroke-width="0.9" />
<text transform="translate(276.7 247.7) scale(0.1)" font-family='"Liberation Serif", serif' font-size="32" font-weight="bold" text-anchor="middle" fill="#111" stroke="#111" stroke-width="5" textLength="12.8" lengthAdjust="spacingAndGlyphs">0</text>
<line x1="285.12" y1="242.9" x2="285.12" y2="244.4" stroke="#333" stroke-width="0.9" />
<text transform="translate(285.12 247.7) scale(0.1)" font-family='"Liberation Serif", serif' font-size="32" font-weight="bold" text-anchor="middle" fill="#111" stroke="#111" stroke-width="5" textLength="25.6" lengthAdjust="spacingAndGlyphs">10</text>
<line x1="293.54" y1="242.9" x2="293.54" y2="244.4" stroke="#333" stroke-width="0.9" />
<text transform="translate(293.54 247.7) scale(0.1)" font-family='"Liberation Serif", serif' font-size="32" font-weight="bold" text-anchor="middle" fill="#111" stroke="#111" stroke-width="5" textLength="25.6" lengthAdjust="spacingAndGlyphs">20</text>
<line x1="301.96" y1="242.9" x2="301.96" y2="244.4" stroke="#333" stroke-width="0.9" />
<text transform="translate(301.96 247.7) scale(0.1)" font-family='"Liberation Serif", serif' font-size="32" font-weight="bold" text-anchor="middle" fill="#111" stroke="#111" stroke-width="5" textLength="25.6" lengthAdjust="spacingAndGlyphs">30</text>
<line x1="310.38" y1="242.9" x2="310.38" y2="244.4" stroke="#333" stroke-width="0.9" />
<text transform="translate(310.38 247.7) scale(0.1)" font-family='"Liberation Serif", serif' font-size="32" font-weight="bold" text-anchor="middle" fill="#111" stroke="#111" stroke-width="5" textLength="25.6" lengthAdjust="spacingAndGlyphs">40</text>
<line x1="318.8" y1="242.9" x2="318.8" y2="244.4" stroke="#333" stroke-width="0.9" />
<text transform="translate(318.8 247.7) scale(0.1)" font-family='"Liberation Serif", serif' font-size="32" font-weight="bold" text-anchor="middle" fill="#111" stroke="#111" stroke-width="5" textLength="25.6" lengthAdjust="spacingAndGlyphs">50</text>
<line x1="327.22" y1="242.9" x2="327.22" y2="244.4" stroke="#333" stroke-width="0.9" />
<text transform="translate(327.22 247.7) scale(0.1)" font-family='"Liberation Serif", serif' font-size="32" font-weight="bold" text-anchor="middle" fill="#111" stroke="#111" stroke-width="5" textLength="25.6" lengthAdjust="spacingAndGlyphs">60</text>
<line x1="335.64" y1="242.9" x2="335.64" y2="244.4" stroke="#333" stroke-width="0.9" />
<text transform="translate(335.64 247.7) scale(0.1)" font-family='"Liberation Serif", serif' font-size="32" font-weight="bold" text-anchor="middle" fill="#111" stroke="#111" stroke-width="5" textLength="25.6" lengthAdjust="spacingAndGlyphs">70</text>
<line x1="344.06" y1="242.9" x2="344.06" y2="244.4" stroke="#333" stroke-width="0.9" />
<text transform="translate(344.06 247.7) scale(0.1)" font-family='"Liberation Serif", serif' font-size="32" font-weight="bold" text-anchor="middle" fill="#111" stroke="#111" stroke-width="5" textLength="25.6" lengthAdjust="spacingAndGlyphs">80</text>
<line x1="352.48" y1="242.9" x2="352.48" y2="244.4" stroke="#333" stroke-width="0.9" />
<text transform="translate(352.48 247.7) scale(0.1)" font-family='"Liberation Serif", serif' font-size="32" font-weight="bold" text-anchor="middle" fill="#111" stroke="#111" stroke-width="5" textLength="25.6" lengthAdjust="spacingAndGlyphs">90</text>
<line x1="360.9" y1="242.9" x2="360.9" y2="244.4" stroke="#333" stroke-width="0.9" />
<text transform="translate(360.9 247.7) scale(0.1)" font-family='"Liberation Serif", serif' font-size="32" font-weight="bold" text-anchor="middle" fill="#111" stroke="#111" stroke-width="5" textLength="38.4" lengthAdjust="spacingAndGlyphs">100</text>
<line x1="369.32" y1="242.9" x2="369.32" y2="244.4" stroke="#333" stroke-width="0.9" />
<text transform="translate(369.32 247.7) scale(0.1)" font-family='"Liberation Serif", serif' font-size="32" font-weight="bold" text-anchor="middle" fill="#111" stroke="#111" stroke-width="5" textLength="38.4" lengthAdjust="spacingAndGlyphs">110</text>
<text transform="translate(324.5 149.4) scale(0.1)" font-family='"Liberation Serif", serif' font-size="55" font-weight="bold" text-anchor="middle" fill="#000" stroke="#000" stroke-width="3.2" textLength="170" lengthAdjust="spacingAndGlyphs">Patient 17</text>
<text transform="translate(322.5 254.8) scale(0.1)" font-family='"Liberation Serif", serif' font-size="44" font-weight="bold" text-anchor="middle" fill="#000" stroke="#000" stroke-width="3" textLength="420" lengthAdjust="spacingAndGlyphs">No. of months after diagnosis</text>
<text transform="translate(271.2 206) rotate(-90) scale(0.1)" font-family='"Liberation Serif", serif' font-size="44" font-weight="bold" text-anchor="middle" fill="#000" stroke="#000" stroke-width="1.5" textLength="280" lengthAdjust="spacingAndGlyphs">PP levels g/L</text>
<text transform="translate(381.3 201) rotate(90) scale(0.1)" font-family='"Liberation Serif", serif' font-size="42" font-weight="bold" text-anchor="middle" fill="#000" stroke="#000" stroke-width="1" textLength="480" lengthAdjust="spacingAndGlyphs">% CS-Ag specific CD8s</text>
<polyline points="277,232.5 281.25,232 286.25,230 292.5,227.5 295,225 300,222.5 302.5,217.5 306.75,205 310.5,197 316.25,210 321.25,217 326.25,215.75 335,210 337,200 338.75,211.25 342.5,215 348.75,211.25 353.75,210 357.5,201.25 361.25,192.5 362.5,205 364.5,225" fill="none" stroke="#555" stroke-width="0.5" stroke-dasharray="1.3 0.6" stroke-linejoin="miter" />
<circle cx="277" cy="232.5" r="0.7" fill="#2a2a2a"/>
<circle cx="281.25" cy="232" r="0.7" fill="#2a2a2a"/>
<circle cx="286.25" cy="230" r="0.7" fill="#2a2a2a"/>
<circle cx="292.5" cy="227.5" r="0.7" fill="#2a2a2a"/>
<circle cx="295" cy="225" r="0.7" fill="#2a2a2a"/>
<circle cx="300" cy="222.5" r="0.7" fill="#2a2a2a"/>
<circle cx="302.5" cy="217.5" r="0.7" fill="#2a2a2a"/>
<circle cx="306.75" cy="205" r="0.7" fill="#2a2a2a"/>
<circle cx="310.5" cy="197" r="0.7" fill="#2a2a2a"/>
<circle cx="316.25" cy="210" r="0.7" fill="#2a2a2a"/>
<circle cx="321.25" cy="217" r="0.7" fill="#2a2a2a"/>
<circle cx="326.25" cy="215.75" r="0.7" fill="#2a2a2a"/>
<circle cx="335" cy="210" r="0.7" fill="#2a2a2a"/>
<circle cx="337" cy="200" r="0.7" fill="#2a2a2a"/>
<circle cx="338.75" cy="211.25" r="0.7" fill="#2a2a2a"/>
<circle cx="342.5" cy="215" r="0.7" fill="#2a2a2a"/>
<circle cx="348.75" cy="211.25" r="0.7" fill="#2a2a2a"/>
<circle cx="353.75" cy="210" r="0.7" fill="#2a2a2a"/>
<circle cx="357.5" cy="201.25" r="0.7" fill="#2a2a2a"/>
<circle cx="361.25" cy="192.5" r="0.7" fill="#2a2a2a"/>
<circle cx="362.5" cy="205" r="0.7" fill="#2a2a2a"/>
<circle cx="364.5" cy="225" r="0.7" fill="#2a2a2a"/>
<polyline points="342.5,225 350,212.5" fill="none" stroke="#222" stroke-width="0.55" stroke-linejoin="miter" />
<polyline points="351.25,240 358.75,240 360.75,233 361.5,176.25 362.5,205 363.75,234.5" fill="none" stroke="#000" stroke-width="0.72" stroke-linejoin="miter" />
<rect x="350.45" y="239.2" width="1.6" height="1.6" fill="#000"/>
<rect x="357.95" y="239.2" width="1.6" height="1.6" fill="#000"/>
<rect x="359.95" y="232.2" width="1.6" height="1.6" fill="#000"/>
<rect x="360.7" y="175.45" width="1.6" height="1.6" fill="#000"/>
<rect x="362.95" y="233.7" width="1.6" height="1.6" fill="#000"/>
<text transform="translate(283 208.1) scale(0.1)" font-family='"Liberation Serif", serif' font-size="56" font-weight="normal" text-anchor="middle" fill="#000" stroke="#000" stroke-width="1.6" textLength="115" lengthAdjust="spacingAndGlyphs">C-VAMP</text>
<text transform="translate(282 231.52) scale(0.1)" font-family='"Liberation Serif", serif' font-size="34" font-weight="normal" text-anchor="middle" fill="#000" stroke="#000" stroke-width="0.5" textLength="90" lengthAdjust="spacingAndGlyphs">PBSCT</text>
<line x1="280.6" y1="232.6" x2="280.6" y2="240.6" stroke="#222" stroke-width="0.6" />
<polygon points="279.35,239 281.85,239 280.6,241.6" fill="#000"/>
<text transform="translate(317 222.35) scale(0.1)" font-family='"Liberation Serif", serif' font-size="56" font-weight="normal" text-anchor="middle" fill="#000" stroke="#000" stroke-width="1.6" textLength="165" lengthAdjust="spacingAndGlyphs">Thalidomide</text>
<line x1="312.5" y1="223" x2="321" y2="223" stroke="#222" stroke-width="0.4" />
<text transform="translate(340.6 215.1) scale(0.1)" font-family='"Liberation Serif", serif' font-size="56" font-weight="normal" text-anchor="middle" fill="#000" stroke="#000" stroke-width="1.6" textLength="115" lengthAdjust="spacingAndGlyphs">Thal/Dex</text>
<line x1="336" y1="215.75" x2="345" y2="215.75" stroke="#222" stroke-width="0.4" />
<text transform="translate(363.5 210.6) scale(0.1)" font-family='"Liberation Serif", serif' font-size="56" font-weight="normal" text-anchor="middle" fill="#000" stroke="#000" stroke-width="1.6" textLength="125" lengthAdjust="spacingAndGlyphs">Thal/Dex</text>
<line x1="357.5" y1="211.3" x2="369.5" y2="211.3" stroke="#222" stroke-width="0.4" />
<line x1="412.3" y1="153.35" x2="412.3" y2="244.6" stroke="#333" stroke-width="1.0" />
<line x1="485.5" y1="153.35" x2="485.5" y2="244.6" stroke="#333" stroke-width="1.0" />
<line x1="411.8" y1="244.1" x2="486" y2="244.1" stroke="#333" stroke-width="1.0" />
<line x1="410.8" y1="153.75" x2="412.3" y2="153.75" stroke="#333" stroke-width="0.9" />
<text transform="translate(411.4 154.94) scale(0.1)" font-family='"Liberation Serif", serif' font-size="36" font-weight="bold" text-anchor="end" fill="#111" stroke="#111" stroke-width="5" textLength="31.2" lengthAdjust="spacingAndGlyphs">90</text>
<line x1="410.8" y1="163.79" x2="412.3" y2="163.79" stroke="#333" stroke-width="0.9" />
<text transform="translate(411.4 164.98) scale(0.1)" font-family='"Liberation Serif", serif' font-size="36" font-weight="bold" text-anchor="end" fill="#111" stroke="#111" stroke-width="5" textLength="31.2" lengthAdjust="spacingAndGlyphs">80</text>
<line x1="410.8" y1="173.83" x2="412.3" y2="173.83" stroke="#333" stroke-width="0.9" />
<text transform="translate(411.4 175.02) scale(0.1)" font-family='"Liberation Serif", serif' font-size="36" font-weight="bold" text-anchor="end" fill="#111" stroke="#111" stroke-width="5" textLength="31.2" lengthAdjust="spacingAndGlyphs">70</text>
<line x1="410.8" y1="183.87" x2="412.3" y2="183.87" stroke="#333" stroke-width="0.9" />
<text transform="translate(411.4 185.05) scale(0.1)" font-family='"Liberation Serif", serif' font-size="36" font-weight="bold" text-anchor="end" fill="#111" stroke="#111" stroke-width="5" textLength="31.2" lengthAdjust="spacingAndGlyphs">60</text>
<line x1="410.8" y1="193.91" x2="412.3" y2="193.91" stroke="#333" stroke-width="0.9" />
<text transform="translate(411.4 195.09) scale(0.1)" font-family='"Liberation Serif", serif' font-size="36" font-weight="bold" text-anchor="end" fill="#111" stroke="#111" stroke-width="5" textLength="31.2" lengthAdjust="spacingAndGlyphs">50</text>
<line x1="410.8" y1="203.94" x2="412.3" y2="203.94" stroke="#333" stroke-width="0.9" />
<text transform="translate(411.4 205.13) scale(0.1)" font-family='"Liberation Serif", serif' font-size="36" font-weight="bold" text-anchor="end" fill="#111" stroke="#111" stroke-width="5" textLength="31.2" lengthAdjust="spacingAndGlyphs">40</text>
<line x1="410.8" y1="213.98" x2="412.3" y2="213.98" stroke="#333" stroke-width="0.9" />
<text transform="translate(411.4 215.17) scale(0.1)" font-family='"Liberation Serif", serif' font-size="36" font-weight="bold" text-anchor="end" fill="#111" stroke="#111" stroke-width="5" textLength="31.2" lengthAdjust="spacingAndGlyphs">30</text>
<line x1="410.8" y1="224.02" x2="412.3" y2="224.02" stroke="#333" stroke-width="0.9" />
<text transform="translate(411.4 225.21) scale(0.1)" font-family='"Liberation Serif", serif' font-size="36" font-weight="bold" text-anchor="end" fill="#111" stroke="#111" stroke-width="5" textLength="31.2" lengthAdjust="spacingAndGlyphs">20</text>
<line x1="410.8" y1="234.06" x2="412.3" y2="234.06" stroke="#333" stroke-width="0.9" />
<text transform="translate(411.4 235.25) scale(0.1)" font-family='"Liberation Serif", serif' font-size="36" font-weight="bold" text-anchor="end" fill="#111" stroke="#111" stroke-width="5" textLength="31.2" lengthAdjust="spacingAndGlyphs">10</text>
<line x1="410.8" y1="244.1" x2="412.3" y2="244.1" stroke="#333" stroke-width="0.9" />
<text transform="translate(411.4 245.29) scale(0.1)" font-family='"Liberation Serif", serif' font-size="36" font-weight="bold" text-anchor="end" fill="#111" stroke="#111" stroke-width="5" textLength="15.6" lengthAdjust="spacingAndGlyphs">0</text>
<line x1="485.5" y1="154" x2="487" y2="154" stroke="#333" stroke-width="0.9" />
<text transform="translate(487.3 155.19) scale(0.1)" font-family='"Liberation Serif", serif' font-size="36" font-weight="bold" text-anchor="start" fill="#111" stroke="#111" stroke-width="5" textLength="54.24" lengthAdjust="spacingAndGlyphs">0.10</text>
<line x1="485.5" y1="159.6" x2="487" y2="159.6" stroke="#333" stroke-width="0.9" />
<text transform="translate(487.3 160.79) scale(0.1)" font-family='"Liberation Serif", serif' font-size="36" font-weight="bold" text-anchor="start" fill="#111" stroke="#111" stroke-width="5" textLength="54.24" lengthAdjust="spacingAndGlyphs">0.08</text>
<line x1="485.5" y1="165.2" x2="487" y2="165.2" stroke="#333" stroke-width="0.9" />
<text transform="translate(487.3 166.39) scale(0.1)" font-family='"Liberation Serif", serif' font-size="36" font-weight="bold" text-anchor="start" fill="#111" stroke="#111" stroke-width="5" textLength="54.24" lengthAdjust="spacingAndGlyphs">0.06</text>
<line x1="485.5" y1="170.8" x2="487" y2="170.8" stroke="#333" stroke-width="0.9" />
<text transform="translate(487.3 171.99) scale(0.1)" font-family='"Liberation Serif", serif' font-size="36" font-weight="bold" text-anchor="start" fill="#111" stroke="#111" stroke-width="5" textLength="54.24" lengthAdjust="spacingAndGlyphs">0.04</text>
<line x1="485.5" y1="176.4" x2="487" y2="176.4" stroke="#333" stroke-width="0.9" />
<text transform="translate(487.3 177.59) scale(0.1)" font-family='"Liberation Serif", serif' font-size="36" font-weight="bold" text-anchor="start" fill="#111" stroke="#111" stroke-width="5" textLength="54.24" lengthAdjust="spacingAndGlyphs">0.02</text>
<line x1="485.5" y1="182.9" x2="487" y2="182.9" stroke="#333" stroke-width="0.9" />
<text transform="translate(487.3 184.09) scale(0.1)" font-family='"Liberation Serif", serif' font-size="36" font-weight="bold" text-anchor="start" fill="#111" stroke="#111" stroke-width="5" textLength="67.8" lengthAdjust="spacingAndGlyphs">0.003</text>
<line x1="485.5" y1="198.2" x2="487" y2="198.2" stroke="#333" stroke-width="0.9" />
<text transform="translate(487.3 199.39) scale(0.1)" font-family='"Liberation Serif", serif' font-size="36" font-weight="bold" text-anchor="start" fill="#111" stroke="#111" stroke-width="5" textLength="67.8" lengthAdjust="spacingAndGlyphs">0.002</text>
<line x1="485.5" y1="213.5" x2="487" y2="213.5" stroke="#333" stroke-width="0.9" />
<text transform="translate(487.3 214.69) scale(0.1)" font-family='"Liberation Serif", serif' font-size="36" font-weight="bold" text-anchor="start" fill="#111" stroke="#111" stroke-width="5" textLength="67.8" lengthAdjust="spacingAndGlyphs">0.001</text>
<line x1="485.5" y1="228.8" x2="487" y2="228.8" stroke="#333" stroke-width="0.9" />
<text transform="translate(487.3 229.99) scale(0.1)" font-family='"Liberation Serif", serif' font-size="36" font-weight="bold" text-anchor="start" fill="#111" stroke="#111" stroke-width="5" textLength="67.8" lengthAdjust="spacingAndGlyphs">0.001</text>
<line x1="485.5" y1="244.1" x2="487" y2="244.1" stroke="#333" stroke-width="0.9" />
<text transform="translate(487.3 245.29) scale(0.1)" font-family='"Liberation Serif", serif' font-size="36" font-weight="bold" text-anchor="start" fill="#111" stroke="#111" stroke-width="5" textLength="67.8" lengthAdjust="spacingAndGlyphs">0.000</text>
<line x1="412.3" y1="244.1" x2="412.3" y2="245.6" stroke="#333" stroke-width="0.9" />
<text transform="translate(412.3 249.8) scale(0.1)" font-family='"Liberation Serif", serif' font-size="36" font-weight="bold" text-anchor="middle" fill="#111" stroke="#111" stroke-width="5" textLength="43.2" lengthAdjust="spacingAndGlyphs">0.0</text>
<line x1="426.92" y1="244.1" x2="426.92" y2="245.6" stroke="#333" stroke-width="0.9" />
<text transform="translate(426.92 249.8) scale(0.1)" font-family='"Liberation Serif", serif' font-size="36" font-weight="bold" text-anchor="middle" fill="#111" stroke="#111" stroke-width="5" textLength="43.2" lengthAdjust="spacingAndGlyphs">2.5</text>
<line x1="441.54" y1="244.1" x2="441.54" y2="245.6" stroke="#333" stroke-width="0.9" />
<text transform="translate(441.54 249.8) scale(0.1)" font-family='"Liberation Serif", serif' font-size="36" font-weight="bold" text-anchor="middle" fill="#111" stroke="#111" stroke-width="5" textLength="43.2" lengthAdjust="spacingAndGlyphs">5.0</text>
<line x1="456.16" y1="244.1" x2="456.16" y2="245.6" stroke="#333" stroke-width="0.9" />
<text transform="translate(456.16 249.8) scale(0.1)" font-family='"Liberation Serif", serif' font-size="36" font-weight="bold" text-anchor="middle" fill="#111" stroke="#111" stroke-width="5" textLength="43.2" lengthAdjust="spacingAndGlyphs">7.5</text>
<line x1="470.78" y1="244.1" x2="470.78" y2="245.6" stroke="#333" stroke-width="0.9" />
<text transform="translate(470.78 249.8) scale(0.1)" font-family='"Liberation Serif", serif' font-size="36" font-weight="bold" text-anchor="middle" fill="#111" stroke="#111" stroke-width="5" textLength="57.6" lengthAdjust="spacingAndGlyphs">10.0</text>
<line x1="485.4" y1="244.1" x2="485.4" y2="245.6" stroke="#333" stroke-width="0.9" />
<text transform="translate(485.4 249.8) scale(0.1)" font-family='"Liberation Serif", serif' font-size="36" font-weight="bold" text-anchor="middle" fill="#111" stroke="#111" stroke-width="5" textLength="57.6" lengthAdjust="spacingAndGlyphs">12.5</text>
<text transform="translate(450 147.6) scale(0.1)" font-family='"Liberation Serif", serif' font-size="42" font-weight="bold" text-anchor="middle" fill="#000" stroke="#000" stroke-width="3.2" textLength="125" lengthAdjust="spacingAndGlyphs">Patient 13</text>
<text transform="translate(448.75 255.6) scale(0.1)" font-family='"Liberation Serif", serif' font-size="48" font-weight="bold" text-anchor="middle" fill="#000" stroke="#000" stroke-width="3" textLength="450" lengthAdjust="spacingAndGlyphs">No. of months after diagnosis</text>
<text transform="translate(407.3 199) rotate(-90) scale(0.1)" font-family='"Liberation Serif", serif' font-size="44" font-weight="bold" text-anchor="middle" fill="#000" stroke="#000" stroke-width="1.5" textLength="290" lengthAdjust="spacingAndGlyphs">PP levels g/L</text>
<text transform="translate(497.4 198.5) rotate(90) scale(0.1)" font-family='"Liberation Serif", serif' font-size="42" font-weight="bold" text-anchor="middle" fill="#000" stroke="#000" stroke-width="1" textLength="420" lengthAdjust="spacingAndGlyphs">% CS-Ag specific CD8s</text>
<polyline points="423.75,173 430.5,188.75 437,191.25 438.75,194.25 444.5,194.25 450.5,193.25 456.25,202.5 465,196.25 476.75,190" fill="none" stroke="#555" stroke-width="0.5" stroke-dasharray="1.3 0.6" stroke-linejoin="miter" />
<circle cx="423.75" cy="173" r="0.7" fill="#2a2a2a"/>
<circle cx="430.5" cy="188.75" r="0.7" fill="#2a2a2a"/>
<circle cx="437" cy="191.25" r="0.7" fill="#2a2a2a"/>
<circle cx="438.75" cy="194.25" r="0.7" fill="#2a2a2a"/>
<circle cx="444.5" cy="194.25" r="0.7" fill="#2a2a2a"/>
<circle cx="450.5" cy="193.25" r="0.7" fill="#2a2a2a"/>
<circle cx="456.25" cy="202.5" r="0.7" fill="#2a2a2a"/>
<circle cx="465" cy="196.25" r="0.7" fill="#2a2a2a"/>
<circle cx="476.75" cy="190" r="0.7" fill="#2a2a2a"/>
<polyline points="465,154.4 444.5,234.5" fill="none" stroke="#000" stroke-width="0.6" stroke-dasharray="21.7 5 8.5 4.5 100" stroke-linejoin="miter" />
<polygon points="444.5,233 443.12,235.62 445.88,235.62" fill="#000"/>
<rect x="464.2" y="153.6" width="1.6" height="1.6" fill="#000"/>
<text transform="translate(433.8 219.59) scale(0.1)" font-family='"Liberation Serif", serif' font-size="42" font-weight="normal" text-anchor="middle" fill="#000" stroke="#000" stroke-width="0.8" textLength="425" lengthAdjust="spacingAndGlyphs">melphalan and prednisolone</text>
<line x1="412.3" y1="221.4" x2="463.75" y2="221.4" stroke="#1a1a1a" stroke-width="1.5" />
<line x1="17.75" y1="285.1" x2="17.75" y2="363.9" stroke="#333" stroke-width="1.0" />
<line x1="127.5" y1="285.1" x2="127.5" y2="363.9" stroke="#333" stroke-width="1.0" />
<line x1="17.25" y1="363.4" x2="128" y2="363.4" stroke="#333" stroke-width="1.0" />
<line x1="15.15" y1="285.5" x2="17.75" y2="285.5" stroke="#333" stroke-width="0.9" />
<text transform="translate(14.45 286.62) scale(0.1)" font-family='"Liberation Serif", serif' font-size="34" font-weight="bold" text-anchor="end" fill="#111" stroke="#111" stroke-width="2.2" textLength="38" lengthAdjust="spacingAndGlyphs">30</text>
<line x1="15.15" y1="311.47" x2="17.75" y2="311.47" stroke="#333" stroke-width="0.9" />
<text transform="translate(14.45 312.59) scale(0.1)" font-family='"Liberation Serif", serif' font-size="34" font-weight="bold" text-anchor="end" fill="#111" stroke="#111" stroke-width="2.2" textLength="38" lengthAdjust="spacingAndGlyphs">20</text>
<line x1="15.15" y1="337.43" x2="17.75" y2="337.43" stroke="#333" stroke-width="0.9" />
<text transform="translate(14.45 338.56) scale(0.1)" font-family='"Liberation Serif", serif' font-size="34" font-weight="bold" text-anchor="end" fill="#111" stroke="#111" stroke-width="2.2" textLength="38" lengthAdjust="spacingAndGlyphs">10</text>
<line x1="15.15" y1="363.4" x2="17.75" y2="363.4" stroke="#333" stroke-width="0.9" />
<text transform="translate(14.45 364.52) scale(0.1)" font-family='"Liberation Serif", serif' font-size="34" font-weight="bold" text-anchor="end" fill="#111" stroke="#111" stroke-width="2.2" textLength="38" lengthAdjust="spacingAndGlyphs">0</text>
<line x1="127.5" y1="285.5" x2="129.3" y2="285.5" stroke="#333" stroke-width="0.9" />
<text transform="translate(130 286.62) scale(0.1)" font-family='"Liberation Serif", serif' font-size="34" font-weight="bold" text-anchor="start" fill="#111" stroke="#111" stroke-width="2.2" textLength="132" lengthAdjust="spacingAndGlyphs">0.0100</text>
<line x1="127.5" y1="304.98" x2="129.3" y2="304.98" stroke="#333" stroke-width="0.9" />
<text transform="translate(130 306.1) scale(0.1)" font-family='"Liberation Serif", serif' font-size="34" font-weight="bold" text-anchor="start" fill="#111" stroke="#111" stroke-width="2.2" textLength="132" lengthAdjust="spacingAndGlyphs">0.0075</text>
<line x1="127.5" y1="324.45" x2="129.3" y2="324.45" stroke="#333" stroke-width="0.9" />
<text transform="translate(130 325.57) scale(0.1)" font-family='"Liberation Serif", serif' font-size="34" font-weight="bold" text-anchor="start" fill="#111" stroke="#111" stroke-width="2.2" textLength="132" lengthAdjust="spacingAndGlyphs">0.0050</text>
<line x1="127.5" y1="343.92" x2="129.3" y2="343.92" stroke="#333" stroke-width="0.9" />
<text transform="translate(130 345.05) scale(0.1)" font-family='"Liberation Serif", serif' font-size="34" font-weight="bold" text-anchor="start" fill="#111" stroke="#111" stroke-width="2.2" textLength="132" lengthAdjust="spacingAndGlyphs">0.0025</text>
<line x1="127.5" y1="363.4" x2="129.3" y2="363.4" stroke="#333" stroke-width="0.9" />
<text transform="translate(130 364.52) scale(0.1)" font-family='"Liberation Serif", serif' font-size="34" font-weight="bold" text-anchor="start" fill="#111" stroke="#111" stroke-width="2.2" textLength="132" lengthAdjust="spacingAndGlyphs">0.0000</text>
<line x1="17.75" y1="363.4" x2="17.75" y2="366" stroke="#333" stroke-width="0.9" />
<text transform="translate(17.75 368.2) scale(0.1)" font-family='"Liberation Serif", serif' font-size="34" font-weight="bold" text-anchor="middle" fill="#111" stroke="#111" stroke-width="2.2" textLength="18" lengthAdjust="spacingAndGlyphs">0</text>
<line x1="45.19" y1="363.4" x2="45.19" y2="366" stroke="#333" stroke-width="0.9" />
<text transform="translate(45.19 368.2) scale(0.1)" font-family='"Liberation Serif", serif' font-size="34" font-weight="bold" text-anchor="middle" fill="#111" stroke="#111" stroke-width="2.2" textLength="40" lengthAdjust="spacingAndGlyphs">10</text>
<line x1="72.62" y1="363.4" x2="72.62" y2="366" stroke="#333" stroke-width="0.9" />
<text transform="translate(72.62 368.2) scale(0.1)" font-family='"Liberation Serif", serif' font-size="34" font-weight="bold" text-anchor="middle" fill="#111" stroke="#111" stroke-width="2.2" textLength="40" lengthAdjust="spacingAndGlyphs">20</text>
<line x1="100.06" y1="363.4" x2="100.06" y2="366" stroke="#333" stroke-width="0.9" />
<text transform="translate(100.06 368.2) scale(0.1)" font-family='"Liberation Serif", serif' font-size="34" font-weight="bold" text-anchor="middle" fill="#111" stroke="#111" stroke-width="2.2" textLength="40" lengthAdjust="spacingAndGlyphs">30</text>
<line x1="127.5" y1="363.4" x2="127.5" y2="366" stroke="#333" stroke-width="0.9" />
<text transform="translate(127.5 368.2) scale(0.1)" font-family='"Liberation Serif", serif' font-size="34" font-weight="bold" text-anchor="middle" fill="#111" stroke="#111" stroke-width="2.2" textLength="40" lengthAdjust="spacingAndGlyphs">40</text>
<text transform="translate(75 279.4) scale(0.1)" font-family='"Liberation Serif", serif' font-size="44" font-weight="bold" text-anchor="middle" fill="#000" stroke="#000" stroke-width="2.5" textLength="250" lengthAdjust="spacingAndGlyphs">Patient 22</text>
<text transform="translate(72.5 373.6) scale(0.1)" font-family='"Liberation Serif", serif' font-size="42" font-weight="bold" text-anchor="middle" fill="#000" stroke="#000" stroke-width="3" textLength="630" lengthAdjust="spacingAndGlyphs">No. of months after diagnosis</text>
<text transform="translate(4.9 322) rotate(-90) scale(0.1)" font-family='"Liberation Serif", serif' font-size="34" font-weight="bold" text-anchor="middle" fill="#000" stroke="#000" stroke-width="3.2" textLength="570" lengthAdjust="spacingAndGlyphs">µg/ml of creatinine urinary light chain</text>
<text transform="translate(150 324) rotate(90) scale(0.1)" font-family='"Liberation Serif", serif' font-size="32" font-weight="bold" text-anchor="middle" fill="#000" stroke="#000" stroke-width="2.5" textLength="385" lengthAdjust="spacingAndGlyphs">% CS-Ag specific CD8s</text>
<polyline points="32.5,321.5 49.4,359 59.4,340 67,285.75 82.5,316.5" fill="none" stroke="#000" stroke-width="0.85" stroke-linejoin="miter" />
<polygon points="32.5,319.88 31.02,322.71 33.98,322.71" fill="#000"/>
<polygon points="49.4,357.38 47.91,360.21 50.88,360.21" fill="#000"/>
<polygon points="59.4,338.38 57.91,341.21 60.88,341.21" fill="#000"/>
<polygon points="67,284.13 65.52,286.96 68.48,286.96" fill="#000"/>
<polygon points="82.5,314.88 81.02,317.71 83.98,317.71" fill="#000"/>
<polyline points="17.9,328 20,336 20,363" fill="none" stroke="#777" stroke-width="0.6" stroke-dasharray="2 1" stroke-linejoin="miter" />
<polyline points="56.3,363 59.4,340 65.5,287 67,300.75 70,363" fill="none" stroke="#777" stroke-width="0.6" stroke-dasharray="2 1" stroke-linejoin="miter" />
<text transform="translate(21.5 328.81) scale(0.1)" font-family='"Liberation Serif", serif' font-size="32" font-weight="normal" text-anchor="middle" fill="#000" stroke="#000" stroke-width="1.6" textLength="70" lengthAdjust="spacingAndGlyphs">VAD</text>
<line x1="17.5" y1="329.6" x2="22.5" y2="329.6" stroke="#222" stroke-width="0.4" />
<text transform="translate(68.5 332.56) scale(0.1)" font-family='"Liberation Serif", serif' font-size="32" font-weight="normal" text-anchor="middle" fill="#000" stroke="#000" stroke-width="1.6" textLength="80" lengthAdjust="spacingAndGlyphs">CDT</text>
<line x1="64.5" y1="334" x2="72.5" y2="334" stroke="#222" stroke-width="0.4" />
<text transform="translate(28.5 352.96) scale(0.1)" font-family='"Liberation Serif", serif' font-size="32" font-weight="normal" text-anchor="middle" fill="#000" stroke="#000" stroke-width="1.6" textLength="156" lengthAdjust="spacingAndGlyphs">PBSCT</text>
<line x1="28.75" y1="355.2" x2="28.75" y2="362.4" stroke="#222" stroke-width="0.6" />
<polygon points="27.65,361 29.85,361 28.75,363.4" fill="#000"/>
<line x1="180.4" y1="287" x2="180.4" y2="363.9" stroke="#333" stroke-width="1.0" />
<line x1="288.4" y1="287" x2="288.4" y2="363.9" stroke="#333" stroke-width="1.0" />
<line x1="179.9" y1="363.4" x2="288.9" y2="363.4" stroke="#333" stroke-width="1.0" />
<line x1="177.8" y1="287.4" x2="180.4" y2="287.4" stroke="#333" stroke-width="0.9" />
<text transform="translate(177.1 288.52) scale(0.1)" font-family='"Liberation Serif", serif' font-size="34" font-weight="bold" text-anchor="end" fill="#111" stroke="#111" stroke-width="2.2" textLength="38" lengthAdjust="spacingAndGlyphs">30</text>
<line x1="177.8" y1="312.73" x2="180.4" y2="312.73" stroke="#333" stroke-width="0.9" />
<text transform="translate(177.1 313.86) scale(0.1)" font-family='"Liberation Serif", serif' font-size="34" font-weight="bold" text-anchor="end" fill="#111" stroke="#111" stroke-width="2.2" textLength="38" lengthAdjust="spacingAndGlyphs">20</text>
<line x1="177.8" y1="338.07" x2="180.4" y2="338.07" stroke="#333" stroke-width="0.9" />
<text transform="translate(177.1 339.19) scale(0.1)" font-family='"Liberation Serif", serif' font-size="34" font-weight="bold" text-anchor="end" fill="#111" stroke="#111" stroke-width="2.2" textLength="38" lengthAdjust="spacingAndGlyphs">10</text>
<line x1="177.8" y1="363.4" x2="180.4" y2="363.4" stroke="#333" stroke-width="0.9" />
<text transform="translate(177.1 364.52) scale(0.1)" font-family='"Liberation Serif", serif' font-size="34" font-weight="bold" text-anchor="end" fill="#111" stroke="#111" stroke-width="2.2" textLength="38" lengthAdjust="spacingAndGlyphs">0</text>
<line x1="288.4" y1="287.4" x2="290.2" y2="287.4" stroke="#333" stroke-width="0.9" />
<text transform="translate(290.9 288.52) scale(0.1)" font-family='"Liberation Serif", serif' font-size="34" font-weight="bold" text-anchor="start" fill="#111" stroke="#111" stroke-width="2.2" textLength="132" lengthAdjust="spacingAndGlyphs">0.0100</text>
<line x1="288.4" y1="306.4" x2="290.2" y2="306.4" stroke="#333" stroke-width="0.9" />
<text transform="translate(290.9 307.52) scale(0.1)" font-family='"Liberation Serif", serif' font-size="34" font-weight="bold" text-anchor="start" fill="#111" stroke="#111" stroke-width="2.2" textLength="132" lengthAdjust="spacingAndGlyphs">0.0075</text>
<line x1="288.4" y1="325.4" x2="290.2" y2="325.4" stroke="#333" stroke-width="0.9" />
<text transform="translate(290.9 326.52) scale(0.1)" font-family='"Liberation Serif", serif' font-size="34" font-weight="bold" text-anchor="start" fill="#111" stroke="#111" stroke-width="2.2" textLength="132" lengthAdjust="spacingAndGlyphs">0.0050</text>
<line x1="288.4" y1="344.4" x2="290.2" y2="344.4" stroke="#333" stroke-width="0.9" />
<text transform="translate(290.9 345.52) scale(0.1)" font-family='"Liberation Serif", serif' font-size="34" font-weight="bold" text-anchor="start" fill="#111" stroke="#111" stroke-width="2.2" textLength="132" lengthAdjust="spacingAndGlyphs">0.0025</text>
<line x1="288.4" y1="363.4" x2="290.2" y2="363.4" stroke="#333" stroke-width="0.9" />
<text transform="translate(290.9 364.52) scale(0.1)" font-family='"Liberation Serif", serif' font-size="34" font-weight="bold" text-anchor="start" fill="#111" stroke="#111" stroke-width="2.2" textLength="132" lengthAdjust="spacingAndGlyphs">0.0000</text>
<line x1="180.4" y1="363.4" x2="180.4" y2="366" stroke="#333" stroke-width="0.9" />
<text transform="translate(180.4 368.2) scale(0.1)" font-family='"Liberation Serif", serif' font-size="34" font-weight="bold" text-anchor="middle" fill="#111" stroke="#111" stroke-width="2.2" textLength="18" lengthAdjust="spacingAndGlyphs">0</text>
<line x1="198.4" y1="363.4" x2="198.4" y2="366" stroke="#333" stroke-width="0.9" />
<text transform="translate(198.4 368.2) scale(0.1)" font-family='"Liberation Serif", serif' font-size="34" font-weight="bold" text-anchor="middle" fill="#111" stroke="#111" stroke-width="2.2" textLength="40" lengthAdjust="spacingAndGlyphs">10</text>
<line x1="216.4" y1="363.4" x2="216.4" y2="366" stroke="#333" stroke-width="0.9" />
<text transform="translate(216.4 368.2) scale(0.1)" font-family='"Liberation Serif", serif' font-size="34" font-weight="bold" text-anchor="middle" fill="#111" stroke="#111" stroke-width="2.2" textLength="40" lengthAdjust="spacingAndGlyphs">20</text>
<line x1="234.4" y1="363.4" x2="234.4" y2="366" stroke="#333" stroke-width="0.9" />
<text transform="translate(234.4 368.2) scale(0.1)" font-family='"Liberation Serif", serif' font-size="34" font-weight="bold" text-anchor="middle" fill="#111" stroke="#111" stroke-width="2.2" textLength="40" lengthAdjust="spacingAndGlyphs">30</text>
<line x1="252.4" y1="363.4" x2="252.4" y2="366" stroke="#333" stroke-width="0.9" />
<text transform="translate(252.4 368.2) scale(0.1)" font-family='"Liberation Serif", serif' font-size="34" font-weight="bold" text-anchor="middle" fill="#111" stroke="#111" stroke-width="2.2" textLength="40" lengthAdjust="spacingAndGlyphs">40</text>
<line x1="270.4" y1="363.4" x2="270.4" y2="366" stroke="#333" stroke-width="0.9" />
<text transform="translate(270.4 368.2) scale(0.1)" font-family='"Liberation Serif", serif' font-size="34" font-weight="bold" text-anchor="middle" fill="#111" stroke="#111" stroke-width="2.2" textLength="40" lengthAdjust="spacingAndGlyphs">50</text>
<line x1="288.4" y1="363.4" x2="288.4" y2="366" stroke="#333" stroke-width="0.9" />
<text transform="translate(288.4 368.2) scale(0.1)" font-family='"Liberation Serif", serif' font-size="34" font-weight="bold" text-anchor="middle" fill="#111" stroke="#111" stroke-width="2.2" textLength="40" lengthAdjust="spacingAndGlyphs">60</text>
<text transform="translate(237.3 281.4) scale(0.1)" font-family='"Liberation Serif", serif' font-size="44" font-weight="bold" text-anchor="middle" fill="#000" stroke="#000" stroke-width="2.5" textLength="234" lengthAdjust="spacingAndGlyphs">Patient 23</text>
<text transform="translate(233.4 373.5) scale(0.1)" font-family='"Liberation Serif", serif' font-size="42" font-weight="bold" text-anchor="middle" fill="#000" stroke="#000" stroke-width="3" textLength="620" lengthAdjust="spacingAndGlyphs">No. of months after diagnosis</text>
<text transform="translate(169.7 325.5) rotate(-90) scale(0.1)" font-family='"Liberation Serif", serif' font-size="34" font-weight="bold" text-anchor="middle" fill="#000" stroke="#000" stroke-width="3.2" textLength="560" lengthAdjust="spacingAndGlyphs">µg/ml of creatinine urinary light chain</text>
<text transform="translate(310 325) rotate(90) scale(0.1)" font-family='"Liberation Serif", serif' font-size="32" font-weight="bold" text-anchor="middle" fill="#000" stroke="#000" stroke-width="2.5" textLength="375" lengthAdjust="spacingAndGlyphs">% CS-Ag specific CD8s</text>
<polyline points="239.4,363.4 245.6,287.9" fill="none" stroke="#000" stroke-width="0.8" stroke-linejoin="miter" />
<circle cx="245.6" cy="287.9" r="0.95" fill="#000"/>
<polyline points="181,362.8 239.4,362.8" fill="none" stroke="#111" stroke-width="0.7" stroke-dasharray="2 1.2" stroke-linejoin="miter" />
<polyline points="243.1,360.25 246.9,354.6 250.6,359.6" fill="none" stroke="#444" stroke-width="0.5" stroke-dasharray="1.4 0.7" stroke-linejoin="miter" />
<polyline points="252,362.6 285,362.6" fill="none" stroke="#555" stroke-width="0.5" stroke-dasharray="1.2 1.4" stroke-linejoin="miter" />
<text transform="translate(187.8 334.46) scale(0.1)" font-family='"Liberation Serif", serif' font-size="32" font-weight="normal" text-anchor="middle" fill="#000" stroke="#000" stroke-width="1.6" textLength="132" lengthAdjust="spacingAndGlyphs">CVAMP</text>
<line x1="181.25" y1="335.1" x2="190.6" y2="335.1" stroke="#222" stroke-width="0.4" />
<text transform="translate(266.9 333.26) scale(0.1)" font-family='"Liberation Serif", serif' font-size="32" font-weight="normal" text-anchor="middle" fill="#000" stroke="#000" stroke-width="1.6" textLength="250" lengthAdjust="spacingAndGlyphs">Pamidronate</text>
<line x1="254.4" y1="334.3" x2="279.4" y2="334.3" stroke="#222" stroke-width="0.4" />
<text transform="translate(251.9 346.89) scale(0.1)" font-family='"Liberation Serif", serif' font-size="30" font-weight="bold" text-anchor="middle" fill="#000" textLength="100" lengthAdjust="spacingAndGlyphs">HDM</text>
<text transform="translate(252.5 351.29) scale(0.1)" font-family='"Liberation Serif", serif' font-size="30" font-weight="bold" text-anchor="middle" fill="#000" textLength="125" lengthAdjust="spacingAndGlyphs">PBSCT</text>
<line x1="251.9" y1="353.4" x2="251.9" y2="361.9" stroke="#222" stroke-width="0.6" />
<polygon points="250.8,360.5 253,360.5 251.9,362.9" fill="#000"/>
<line x1="340" y1="285.35" x2="340" y2="363.9" stroke="#333" stroke-width="1.0" />
<line x1="449.8" y1="285.35" x2="449.8" y2="363.9" stroke="#333" stroke-width="1.0" />
<line x1="339.5" y1="363.4" x2="450.3" y2="363.4" stroke="#333" stroke-width="1.0" />
<line x1="337.4" y1="285.75" x2="340" y2="285.75" stroke="#333" stroke-width="0.9" />
<text transform="translate(336.7 286.87) scale(0.1)" font-family='"Liberation Serif", serif' font-size="34" font-weight="bold" text-anchor="end" fill="#111" stroke="#111" stroke-width="2.2" textLength="38" lengthAdjust="spacingAndGlyphs">30</text>
<line x1="337.4" y1="311.63" x2="340" y2="311.63" stroke="#333" stroke-width="0.9" />
<text transform="translate(336.7 312.76) scale(0.1)" font-family='"Liberation Serif", serif' font-size="34" font-weight="bold" text-anchor="end" fill="#111" stroke="#111" stroke-width="2.2" textLength="38" lengthAdjust="spacingAndGlyphs">20</text>
<line x1="337.4" y1="337.52" x2="340" y2="337.52" stroke="#333" stroke-width="0.9" />
<text transform="translate(336.7 338.64) scale(0.1)" font-family='"Liberation Serif", serif' font-size="34" font-weight="bold" text-anchor="end" fill="#111" stroke="#111" stroke-width="2.2" textLength="38" lengthAdjust="spacingAndGlyphs">10</text>
<line x1="337.4" y1="363.4" x2="340" y2="363.4" stroke="#333" stroke-width="0.9" />
<text transform="translate(336.7 364.52) scale(0.1)" font-family='"Liberation Serif", serif' font-size="34" font-weight="bold" text-anchor="end" fill="#111" stroke="#111" stroke-width="2.2" textLength="38" lengthAdjust="spacingAndGlyphs">0</text>
<line x1="449.8" y1="286" x2="451.6" y2="286" stroke="#333" stroke-width="0.9" />
<text transform="translate(452.3 287.12) scale(0.1)" font-family='"Liberation Serif", serif' font-size="34" font-weight="bold" text-anchor="start" fill="#111" stroke="#111" stroke-width="2.2" textLength="132" lengthAdjust="spacingAndGlyphs">0.0100</text>
<line x1="449.8" y1="305.35" x2="451.6" y2="305.35" stroke="#333" stroke-width="0.9" />
<text transform="translate(452.3 306.47) scale(0.1)" font-family='"Liberation Serif", serif' font-size="34" font-weight="bold" text-anchor="start" fill="#111" stroke="#111" stroke-width="2.2" textLength="132" lengthAdjust="spacingAndGlyphs">0.0075</text>
<line x1="449.8" y1="324.7" x2="451.6" y2="324.7" stroke="#333" stroke-width="0.9" />
<text transform="translate(452.3 325.82) scale(0.1)" font-family='"Liberation Serif", serif' font-size="34" font-weight="bold" text-anchor="start" fill="#111" stroke="#111" stroke-width="2.2" textLength="132" lengthAdjust="spacingAndGlyphs">0.0050</text>
<line x1="449.8" y1="344.05" x2="451.6" y2="344.05" stroke="#333" stroke-width="0.9" />
<text transform="translate(452.3 345.17) scale(0.1)" font-family='"Liberation Serif", serif' font-size="34" font-weight="bold" text-anchor="start" fill="#111" stroke="#111" stroke-width="2.2" textLength="132" lengthAdjust="spacingAndGlyphs">0.0025</text>
<line x1="449.8" y1="363.4" x2="451.6" y2="363.4" stroke="#333" stroke-width="0.9" />
<text transform="translate(452.3 364.52) scale(0.1)" font-family='"Liberation Serif", serif' font-size="34" font-weight="bold" text-anchor="start" fill="#111" stroke="#111" stroke-width="2.2" textLength="132" lengthAdjust="spacingAndGlyphs">0.0000</text>
<line x1="340" y1="363.4" x2="340" y2="366" stroke="#333" stroke-width="0.9" />
<text transform="translate(340 368.2) scale(0.1)" font-family='"Liberation Serif", serif' font-size="34" font-weight="bold" text-anchor="middle" fill="#111" stroke="#111" stroke-width="2.2" textLength="18" lengthAdjust="spacingAndGlyphs">0</text>
<line x1="367.45" y1="363.4" x2="367.45" y2="366" stroke="#333" stroke-width="0.9" />
<text transform="translate(367.45 368.2) scale(0.1)" font-family='"Liberation Serif", serif' font-size="34" font-weight="bold" text-anchor="middle" fill="#111" stroke="#111" stroke-width="2.2" textLength="40" lengthAdjust="spacingAndGlyphs">10</text>
<line x1="394.9" y1="363.4" x2="394.9" y2="366" stroke="#333" stroke-width="0.9" />
<text transform="translate(394.9 368.2) scale(0.1)" font-family='"Liberation Serif", serif' font-size="34" font-weight="bold" text-anchor="middle" fill="#111" stroke="#111" stroke-width="2.2" textLength="40" lengthAdjust="spacingAndGlyphs">20</text>
<line x1="422.35" y1="363.4" x2="422.35" y2="366" stroke="#333" stroke-width="0.9" />
<text transform="translate(422.35 368.2) scale(0.1)" font-family='"Liberation Serif", serif' font-size="34" font-weight="bold" text-anchor="middle" fill="#111" stroke="#111" stroke-width="2.2" textLength="40" lengthAdjust="spacingAndGlyphs">30</text>
<line x1="449.8" y1="363.4" x2="449.8" y2="366" stroke="#333" stroke-width="0.9" />
<text transform="translate(449.8 368.2) scale(0.1)" font-family='"Liberation Serif", serif' font-size="34" font-weight="bold" text-anchor="middle" fill="#111" stroke="#111" stroke-width="2.2" textLength="40" lengthAdjust="spacingAndGlyphs">40</text>
<text transform="translate(397.8 279.9) scale(0.1)" font-family='"Liberation Serif", serif' font-size="44" font-weight="bold" text-anchor="middle" fill="#000" stroke="#000" stroke-width="2.5" textLength="240" lengthAdjust="spacingAndGlyphs">Patient 20</text>
<text transform="translate(394 373.6) scale(0.1)" font-family='"Liberation Serif", serif' font-size="42" font-weight="bold" text-anchor="middle" fill="#000" stroke="#000" stroke-width="3" textLength="630" lengthAdjust="spacingAndGlyphs">No. of months after diagnosis</text>
<text transform="translate(328 325) rotate(-90) scale(0.1)" font-family='"Liberation Serif", serif' font-size="34" font-weight="bold" text-anchor="middle" fill="#000" stroke="#000" stroke-width="3.2" textLength="570" lengthAdjust="spacingAndGlyphs">µg/ml of creatinine urinary light chain</text>
<text transform="translate(472.5 325) rotate(90) scale(0.1)" font-family='"Liberation Serif", serif' font-size="32" font-weight="bold" text-anchor="middle" fill="#000" stroke="#000" stroke-width="2.5" textLength="375" lengthAdjust="spacingAndGlyphs">% CS-Ag specific CD8s</text>
<polyline points="343,354.5 345,354 348.75,355.9 351.25,354 354.4,358 360,362 365.5,363.25 372.5,363.25 380,362.5 384.25,360.75 386.75,345.75 389.5,326.5 408,326.5 408.5,333.4 411.9,341.5 415,338.4 416.9,355.9 420,355.25 425.6,360.9" fill="none" stroke="#2a2a2a" stroke-width="0.6" stroke-dasharray="1.8 0.7" stroke-linejoin="miter" />
<circle cx="343" cy="354.5" r="0.6" fill="#222"/>
<circle cx="345" cy="354" r="0.6" fill="#222"/>
<circle cx="348.75" cy="355.9" r="0.6" fill="#222"/>
<circle cx="351.25" cy="354" r="0.6" fill="#222"/>
<circle cx="354.4" cy="358" r="0.6" fill="#222"/>
<circle cx="360" cy="362" r="0.6" fill="#222"/>
<circle cx="365.5" cy="363.25" r="0.6" fill="#222"/>
<circle cx="372.5" cy="363.25" r="0.6" fill="#222"/>
<circle cx="380" cy="362.5" r="0.6" fill="#222"/>
<circle cx="384.25" cy="360.75" r="0.6" fill="#222"/>
<circle cx="386.75" cy="345.75" r="0.6" fill="#222"/>
<circle cx="389.5" cy="326.5" r="0.6" fill="#222"/>
<circle cx="408" cy="326.5" r="0.6" fill="#222"/>
<circle cx="408.5" cy="333.4" r="0.6" fill="#222"/>
<circle cx="411.9" cy="341.5" r="0.6" fill="#222"/>
<circle cx="415" cy="338.4" r="0.6" fill="#222"/>
<circle cx="416.9" cy="355.9" r="0.6" fill="#222"/>
<circle cx="420" cy="355.25" r="0.6" fill="#222"/>
<circle cx="425.6" cy="360.9" r="0.6" fill="#222"/>
<polyline points="386,363.2 393.75,360.75 400,359 406,353.4 408.5,363.4" fill="none" stroke="#000" stroke-width="0.85" stroke-linejoin="miter" />
<polygon points="386,362.48 385.34,363.74 386.66,363.74" fill="#000"/>
<polygon points="393.75,360.03 393.09,361.29 394.41,361.29" fill="#000"/>
<polygon points="400,358.28 399.34,359.54 400.66,359.54" fill="#000"/>
<polygon points="406,352.68 405.34,353.94 406.66,353.94" fill="#000"/>
<polygon points="408.5,362.68 407.84,363.94 409.16,363.94" fill="#000"/>
<text transform="translate(349.5 332.85) scale(0.1)" font-family='"Liberation Serif", serif' font-size="38" font-weight="normal" text-anchor="middle" fill="#000" stroke="#000" stroke-width="1.6" textLength="110" lengthAdjust="spacingAndGlyphs">VAD</text>
<line x1="340" y1="334.6" x2="359.5" y2="334.6" stroke="#222" stroke-width="0.6" />
<text transform="translate(394.8 322.42) scale(0.1)" font-family='"Liberation Serif", serif' font-size="34" font-weight="normal" text-anchor="middle" fill="#000" stroke="#000" stroke-width="1.6" textLength="105" lengthAdjust="spacingAndGlyphs">VAD</text>
<line x1="389.5" y1="323.4" x2="400" y2="323.4" stroke="#222" stroke-width="0.4" />
<text transform="translate(416 330.22) scale(0.1)" font-family='"Liberation Serif", serif' font-size="34" font-weight="normal" text-anchor="middle" fill="#000" stroke="#000" stroke-width="1.6" textLength="100" lengthAdjust="spacingAndGlyphs">CDT</text>
<line x1="407.5" y1="330.9" x2="422.5" y2="330.9" stroke="#222" stroke-width="0.4" />
<text transform="translate(428.1 326.06) scale(0.1)" font-family='"Liberation Serif", serif' font-size="32" font-weight="normal" text-anchor="middle" fill="#000" stroke="#000" stroke-width="1.6" textLength="87" lengthAdjust="spacingAndGlyphs">Thal.</text>
<line x1="423.75" y1="327.5" x2="432.5" y2="327.5" stroke="#222" stroke-width="0.4" />
</svg>
</body></html>
